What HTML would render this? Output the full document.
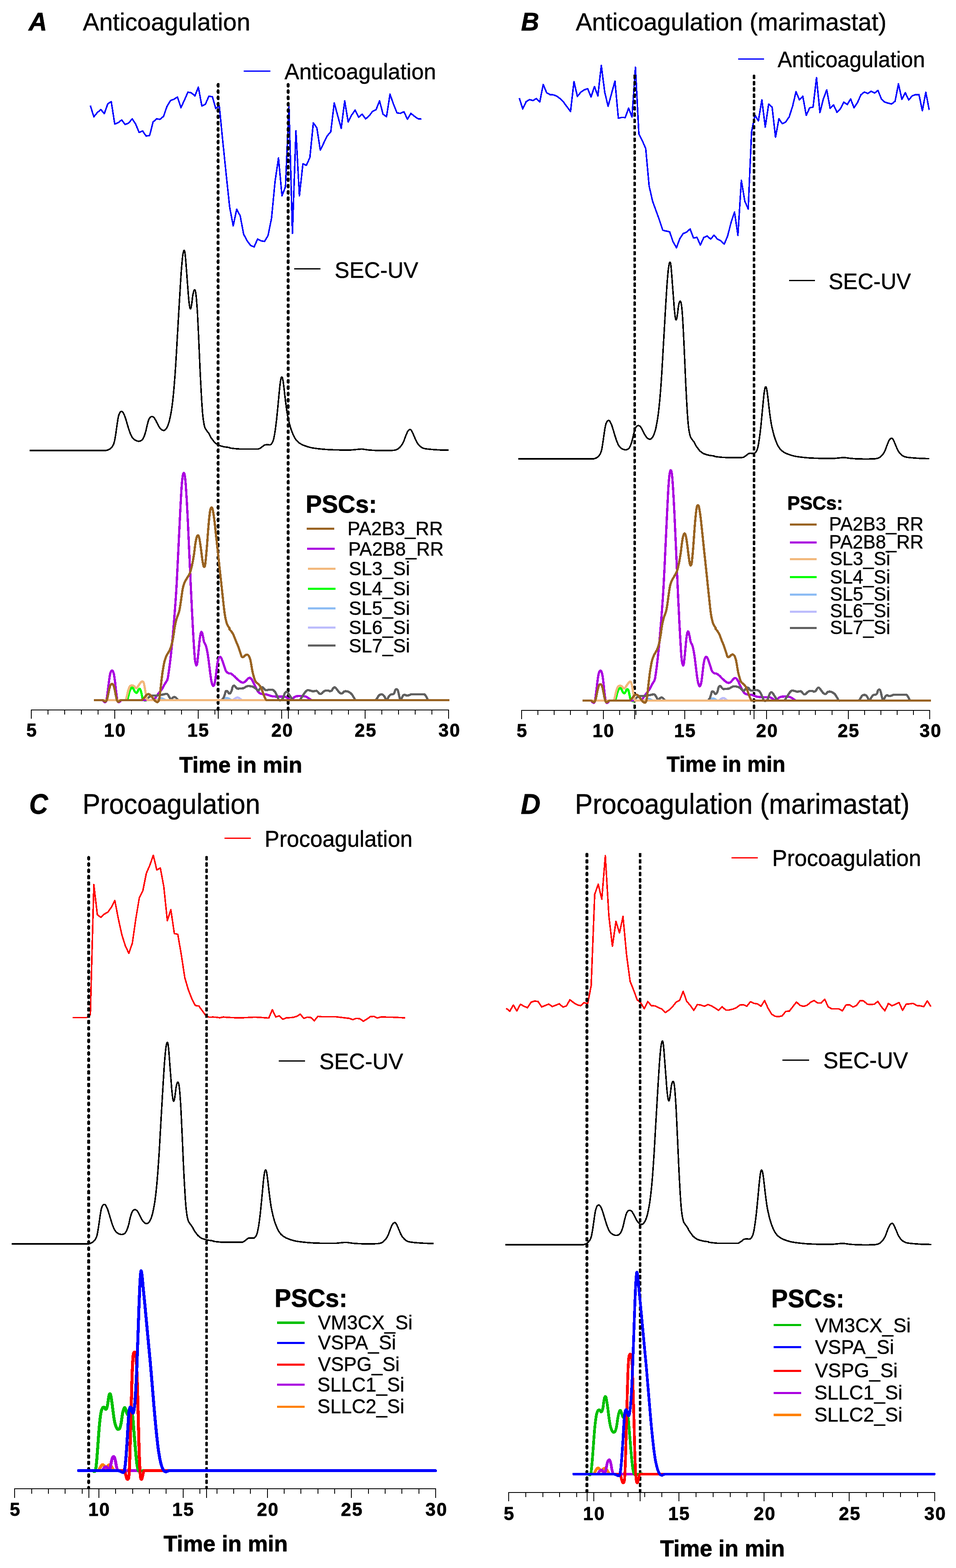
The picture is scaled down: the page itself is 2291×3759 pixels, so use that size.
<!DOCTYPE html>
<html lang="en">
<head>
<meta charset="utf-8">
<title>Anticoagulation and procoagulation chromatograms</title>
<style>
html,body{margin:0;padding:0;background:#fff;}
body{width:2291px;height:3759px;overflow:hidden;}
svg{display:block;}
svg text{font-family:"Liberation Sans",Arial,Helvetica,sans-serif;fill:#000;stroke:#000;stroke-width:0.55px;stroke-linejoin:round;}
svg text[font-weight="bold"]{stroke-width:0.9px;}
</style>
</head>
<body>
<svg width="2291" height="3759" viewBox="0 0 2291 3759" shape-rendering="crispEdges">
<rect x="0" y="0" width="2291" height="3759" fill="#fff"/>
<g id="panelA">
<text x="68.70" y="73.10" font-size="60.18" font-weight="bold" font-style="italic" textLength="44.01" lengthAdjust="spacingAndGlyphs">A</text>
<text x="198.60" y="73.10" font-size="59.87" font-weight="normal" font-style="normal" textLength="401.19" lengthAdjust="spacingAndGlyphs">Anticoagulation</text>
<polyline points="216.5,253 224.9,280 233.2,270 241.6,262.5 249.9,272.5 258.3,249 266.6,243.5 275,297.5 283.3,294 291.7,287.5 300,298.5 308.4,295 316.7,285 325.1,297.5 333.4,317.5 341.8,314 350.1,326 358.5,325 366.8,292.5 375.2,285 383.5,286 391.9,279 400.2,255 408.6,241 416.9,238 425.3,232.5 433.6,258 442,240 450.3,221 458.7,222.5 467,230 475.4,209 483.7,254 492.1,250 500.4,231 508.8,231.5 517.1,260 525.5,254 533.8,337.8 542.2,419.7 550.5,497.6 558.9,541.5 567.2,501.5 575.6,517.5 583.9,561.5 592.3,577.4 600.6,588.4 609,592 617.3,573 625.7,577.4 634,578.8 642.4,564.5 650.7,523.5 659.1,435.6 667.4,378.7 675.8,469.6 684.1,447.6 692.5,253.9 700.8,559.5 709.2,313.8 717.5,469.6 725.9,392.7 734.2,396.3 742.6,377.7 750.9,294.6 759.3,306.6 767.6,359.7 776,342.5 784.3,325.7 792.7,315.7 801,246.6 809.4,277.8 817.7,307.8 826.1,241.8 834.4,292.6 842.8,275.8 851.1,263.8 859.5,281 867.8,273.8 876.2,285 884.5,277.8 892.9,267 901.2,263 909.6,241.8 917.9,273.8 926.3,279.8 934.6,225.8 943,249.8 951.3,270.6 959.7,271.8 968,267.8 976.4,285.8 984.7,271.8 993.1,278.6 1001.4,284.6 1009.8,285.4" fill="none" stroke="#0000ff" stroke-width="3.6" stroke-linejoin="round" stroke-linecap="butt" />
<path d="M70.8,1080C100.7,1080 219.1,1080.1 250,1080.1C252,1080.1 254.2,1079.9 256.1,1079.4C257.8,1079.1 259.6,1078.5 261.2,1077.6C262.9,1076.7 264.7,1075.4 266.2,1074C267.8,1072.5 269.2,1070.8 270.3,1068.9C271.5,1066.9 272.6,1064.3 273.3,1061.8C274.2,1059.1 274.8,1055.7 275.4,1052.7C276,1049.1 276.8,1044.6 277.4,1040.5C278.1,1036.1 278.8,1031 279.4,1026.3C280.1,1021.5 280.8,1016.5 281.5,1012.1C282.1,1008 282.8,1003.1 283.5,999.9C284,997.5 284.8,994.7 285.5,992.8C286,991.4 286.9,989.8 287.5,988.7C288.1,987.9 288.9,987.1 289.6,986.7C290.2,986.4 290.9,986.2 291.6,986.3C292.3,986.4 293.1,986.8 293.6,987.3C294.3,988 295.1,989.1 295.7,990.2C296.5,991.8 297.8,994.6 298.7,996.9C299.7,999.5 300.8,1002.9 301.8,1006C302.8,1009.2 303.8,1012.8 304.8,1016.1C305.8,1019.5 306.8,1023.1 307.8,1026.3C308.8,1029.3 309.9,1032.6 310.9,1035.4C311.8,1038 312.9,1040.7 313.9,1042.9C314.8,1044.9 316,1047 317,1048.6C317.8,1049.9 319,1051.2 320,1052.3C320.9,1053.2 322,1054 323.1,1054.7C324.3,1055.4 325.8,1056.2 327.1,1056.7C328.4,1057.2 330,1057.6 331.2,1057.7C332.2,1057.9 333.2,1057.9 334.2,1057.7C335.2,1057.6 336.3,1057.2 337.3,1056.7C338.3,1056.2 339.5,1055.6 340.3,1054.7C341.3,1053.7 342.6,1052.1 343.4,1050.6C344.4,1048.8 345.6,1046 346.4,1043.5C347.4,1040.7 348.6,1036.6 349.5,1033.4C350.2,1030.4 350.8,1027.1 351.5,1024.3C352.1,1021.5 352.8,1018.7 353.5,1016.1C354.1,1013.8 354.9,1011.1 355.5,1009C356.1,1007.3 356.9,1005.3 357.6,1004C358.1,1002.9 358.9,1001.7 359.6,1000.9C360.2,1000.3 360.9,999.7 361.6,999.3C362.4,998.9 363.2,998.5 364.1,998.5C364.9,998.5 365.9,998.8 366.7,999.3C367.7,999.9 368.9,1000.9 369.7,1001.9C370.8,1003.2 371.8,1005.3 372.8,1007C373.8,1008.9 374.8,1011.1 375.8,1013.1C376.9,1015.1 377.9,1017.3 378.9,1019.2C379.8,1020.9 380.9,1022.7 381.9,1024.3C382.9,1025.7 384,1027.2 385,1028.3C385.9,1029.3 387,1030.2 388,1030.7C388.9,1031.3 390.2,1031.6 391.1,1031.8C391.7,1031.9 392.4,1031.9 393.1,1031.8C393.9,1031.5 395.3,1031.1 396.1,1030.3C397.1,1029.4 398.3,1027.7 399.2,1026.3C400.2,1024.6 401.4,1022.3 402.2,1020.2C403.2,1017.7 404.4,1014.2 405.3,1011.1C406.3,1007.3 407.4,1002.3 408.3,997.9C409.3,992.8 410.5,986 411.4,980.6C412.1,975.6 412.8,970.5 413.4,965.4C414.1,959.8 414.8,953.2 415.4,947.1C416.1,940.4 416.8,932.3 417.4,924.8C418.1,916.7 418.8,907.2 419.5,898.4C420.2,889 420.9,878.2 421.5,868C422.2,857.2 422.9,845 423.5,833.5C424.2,821.7 424.9,808.8 425.6,797C426.2,785.5 426.9,774 427.6,762.5C428.3,751 428.9,739.5 429.6,728C430.3,716.5 431,704.7 431.7,693.5C432.3,682.7 433,670.8 433.7,661C434.3,652.2 435,642.4 435.7,634.6C436.3,627.9 437.1,619.6 437.7,614.4C438.2,610.6 439.2,605.6 439.8,603.2C440.1,602.1 440.9,600.1 441.4,600.1C441.9,600.1 442.6,602.1 442.8,603.2C443.3,605.9 444,612 444.4,616.4C445,622 445.5,629.9 446.1,636.7C446.6,644.1 447.3,652.9 447.9,661C448.5,669.5 449.2,678.6 449.9,687.4C450.6,696.2 451.3,706.3 451.9,713.8C452.5,719.9 453.4,727.8 454,732C454.3,734.4 455,737.7 455.4,739.1C455.6,739.7 456.2,740.9 456.6,740.6C457.1,740.2 457.8,738.3 458,737.1C458.6,734.3 459.5,728.3 460.1,723.9C460.7,719 461.4,711.9 462.1,707.7C462.6,704.6 463.6,700.6 464.1,698.6C464.4,697.5 465.1,696.1 465.5,695.5C465.8,695.2 466.4,694.9 466.8,695.1C467.2,695.5 467.9,696.6 468.2,697.5C468.7,699.3 469.3,702.9 469.6,705.7C470.1,709.7 470.8,716.5 471.2,721.9C471.8,729.7 472.7,742.2 473.3,752.3C473.9,764.2 474.6,779.4 475.3,792.9C476,807.1 476.7,822.7 477.3,837.6C478,852.8 478.7,869.7 479.3,884.2C480,897.8 480.7,912 481.4,924.8C482,937 482.7,950.5 483.4,961.3C484,970.8 484.8,982 485.4,989.8C486,995.9 486.8,1003.1 487.5,1008C488,1011.8 488.8,1016.1 489.5,1019.2C490,1021.6 490.7,1024.3 491.5,1026.3C492.3,1028.1 493.6,1029.8 494.6,1031.4C495.5,1032.8 496.6,1034.1 497.6,1035.4C498.6,1036.8 499.8,1038 500.7,1039.5C501.7,1041.2 502.7,1043.7 503.7,1045.6C504.6,1047.3 505.7,1049.1 506.7,1050.6C507.7,1052 508.8,1053.3 509.8,1054.7C510.8,1056 511.8,1057.6 512.8,1058.8C513.8,1059.8 514.8,1060.9 515.9,1061.8C517.1,1062.8 518.6,1063.9 519.9,1064.8C521.2,1065.7 522.6,1066.6 524,1067.3C525.7,1068 528,1068.7 530.1,1069.3C532.5,1070 535.5,1070.8 538.2,1071.3C541.5,1071.9 548,1072.5 550,1073C550.3,1073 549.7,1073.8 550,1073.8C551.7,1074.2 556.6,1074.9 560,1075.2C564.3,1075.6 570.6,1076.4 575.9,1076.4L617.9,1076.4C619.3,1076.4 620.6,1076 621.9,1075.4C623.2,1074.8 624.6,1073.7 625.9,1072.8C627.2,1071.9 628.5,1070.8 629.9,1069.8C631.2,1068.8 632.5,1067.4 633.9,1066.8C635.1,1066.3 636.5,1066.3 637.9,1066.2C640.2,1066.1 645.7,1066.6 647.8,1066.2C649.1,1066 650,1064.8 650.8,1063.8C651.8,1062.6 653.2,1060.6 653.8,1058.8C654.8,1056.2 656.1,1051.6 656.8,1047.8C657.8,1043 659,1035.9 659.8,1029.9C660.8,1022.9 661.9,1013.9 662.8,1005.9C663.8,996.9 664.9,985.9 665.8,975.9C666.8,965.6 668,952.6 668.8,943.9C669.5,937.3 670.2,929.6 670.8,924C671.4,919.3 672.2,913.1 672.8,910C673.1,908.3 673.8,906 674.2,905C674.4,904.5 675,903.8 675.4,904C675.8,904.2 676.6,905.2 676.8,906C677.4,908 678.3,912.6 678.8,916C679.5,920.3 680.2,926.6 680.8,932C681.5,937.6 682.1,944 682.8,949.9C683.6,956.9 684.8,966.6 685.8,973.9C686.7,980.6 687.8,988.2 688.8,993.9C689.6,998.6 690.8,1003.6 691.8,1007.9C692.7,1011.9 693.8,1016.2 694.8,1019.9C695.7,1023.2 696.8,1026.9 697.8,1029.9C698.7,1032.6 699.7,1035.2 700.8,1037.9C701.9,1040.7 703.3,1044 704.8,1046.8C706.2,1049.6 707.9,1052.5 709.8,1054.8C711.5,1057.1 713.5,1059.1 715.8,1060.8C718.1,1062.7 720.9,1064.4 723.7,1065.8C726.7,1067.3 730.3,1068.7 733.7,1069.8C737.4,1071.1 741.7,1072.3 745.7,1073.2C750,1074.1 755,1074.8 759.7,1075.4C765.4,1076.1 773,1076.9 779.7,1077.4C786.4,1077.9 793.3,1078.2 800,1078.4C806.7,1078.6 813.3,1078.8 820,1078.8L839.9,1078.8C844,1078.8 848.3,1078.1 851.9,1077.8C855.3,1077.5 859.3,1077 861.9,1076.8C863.9,1076.7 865.9,1076.5 867.9,1076.6C869.9,1076.7 871.9,1077.1 873.9,1077.4C876.6,1077.8 880.5,1078.5 883.9,1078.8C888.2,1079.2 894.5,1079.6 899.9,1079.8C905.9,1080 913.2,1080.2 919.8,1080.2C926.5,1080.2 935.1,1080 939.8,1079.8C942.5,1079.7 945.6,1079.3 947.8,1078.8C949.5,1078.4 951.2,1077.7 952.8,1076.8C954.5,1075.8 956.3,1074.3 957.8,1072.8C959.4,1071.2 961.3,1069 962.8,1066.8C964.3,1064.7 965.6,1062.3 966.8,1059.8C967.9,1057.3 968.8,1054.5 969.8,1051.8C970.8,1049.2 971.8,1046.3 972.8,1043.8C973.7,1041.5 974.8,1038.9 975.8,1036.9C976.6,1035.1 977.8,1033 978.7,1031.9C979.4,1031 980.7,1030.3 981.3,1029.9C981.8,1029.6 982.3,1029.4 982.7,1029.5C983.3,1029.5 984.3,1029.7 984.7,1030.3C985.6,1031.2 986.9,1033.2 987.7,1034.9C988.7,1036.8 989.7,1039.5 990.7,1041.8C991.7,1044.2 992.7,1046.5 993.7,1048.8C994.7,1051.2 995.7,1053.7 996.7,1055.8C997.6,1057.7 998.6,1059.6 999.7,1061.4C1000.9,1063.3 1002.2,1065.2 1003.7,1066.8C1005.2,1068.5 1007,1070.2 1008.7,1071.4C1010.2,1072.6 1011.9,1073.5 1013.7,1074.2C1015.5,1074.9 1017.7,1075.5 1019.7,1075.8C1022.4,1076.3 1026.3,1076.7 1029.7,1077C1033,1077.3 1036.3,1077.6 1039.7,1077.8C1044,1078.1 1050.3,1078.6 1055.6,1078.8C1061.6,1079 1072,1079.1 1075.2,1079.2" fill="none" stroke="#000" stroke-width="3.6" stroke-linejoin="round" stroke-linecap="butt"/>
<line x1="522.7" y1="202.3" x2="522.7" y2="1701" stroke="#000" stroke-width="6.5" stroke-linecap="round" stroke-dasharray="4.4 10.7"/>
<line x1="690.6" y1="202.3" x2="690.6" y2="1701" stroke="#000" stroke-width="6.5" stroke-linecap="round" stroke-dasharray="4.4 10.7"/>
<line x1="522.7" y1="1701.9" x2="522.7" y2="1722.7" stroke="#000" stroke-width="2" stroke-linecap="butt" />
<line x1="690.6" y1="1701.9" x2="690.6" y2="1722.7" stroke="#000" stroke-width="2" stroke-linecap="butt" />
<path d="M375.7,1678.3C376.7,1677.8 379.8,1676.3 381.5,1675.6C383.1,1674.9 384.6,1673.7 386.2,1673.7C387.7,1673.7 389.3,1674.9 390.8,1675.6C392.5,1676.3 395.6,1677.8 396.6,1678.3" fill="none" stroke="#8cbcf4" stroke-width="5.4" stroke-linejoin="round" stroke-linecap="butt"/>
<path d="M532,1678.3C533,1677.7 536.1,1675.5 537.9,1674.6C539.5,1673.9 541.3,1673.2 542.9,1673.2C544.6,1673.2 546.4,1673.9 547.9,1674.6C549.8,1675.5 552.9,1677.7 553.9,1678.3" fill="none" stroke="#8cbcf4" stroke-width="5.4" stroke-linejoin="round" stroke-linecap="butt"/>
<path d="M557.9,1678.3C558.9,1677.6 562.1,1675.3 563.9,1674.2C565.5,1673.3 567.2,1672 568.9,1672C570.6,1672 572.4,1673.2 573.9,1674.2C575.6,1675.3 578.1,1677.6 578.9,1678.3" fill="none" stroke="#bcbcfc" stroke-width="5.4" stroke-linejoin="round" stroke-linecap="butt"/>
<path d="M224.7,1678.3L304,1678.3C305.1,1678.3 305.3,1676.6 305.7,1675.6C306.2,1674 306.9,1670.9 307.5,1668.6C308.2,1665.9 309.1,1661.9 309.8,1659.4C310.4,1657.4 311.3,1655.2 312.1,1653.6C312.9,1652.2 314.1,1650.5 314.9,1649.7C315.5,1649 316.5,1648 317.2,1648.3C318,1648.5 318.9,1650.2 319.5,1651.3C320.4,1652.7 321.5,1655.5 322.6,1657.1C323.4,1658.3 324.7,1660 325.6,1660.5C326.2,1661 327.3,1661 327.9,1660.5C328.6,1660 329.5,1658.3 330.2,1657.1C331,1655.7 331.7,1653.4 332.5,1652.4C333,1651.8 334,1650.9 334.8,1651.3C335.6,1651.7 336.6,1653.4 337.1,1654.7C337.9,1656.9 338.7,1660.9 339.4,1664C340.2,1667.3 340.9,1672 341.7,1674.4C342.3,1675.9 343.3,1677.4 344.5,1678.3C345.8,1679.2 348,1679.7 349.2,1679.7C350.1,1679.7 350.6,1678.3 351.5,1678.3L1076.5,1678.3" fill="none" stroke="#00ff00" stroke-width="5.4" stroke-linejoin="round" stroke-linecap="butt"/>
<path d="M224.7,1678.3L245.1,1678.3C246.6,1678.3 247.4,1680.5 248.5,1681.4C249.6,1682.2 251,1683.9 252,1683.7C253,1683.5 254.4,1681.6 254.8,1680.2C255.6,1677.3 256.4,1671 257.1,1666.3C257.9,1660.9 258.6,1654 259.4,1647.8C260.2,1641.6 261,1634.7 261.7,1629.3C262.4,1624.7 263.3,1618.8 264,1615.4C264.5,1613.2 265.6,1610.3 266.3,1608.9C266.8,1608.1 267.9,1607.2 268.7,1607.3C269.4,1607.4 270.5,1608.6 271,1609.6C271.7,1611.4 272.8,1615 273.3,1617.7C274.1,1621.8 274.9,1628.5 275.6,1633.9C276.4,1640.1 277.1,1648.2 277.9,1654.7C278.6,1660.9 279.5,1668.6 280.2,1673.3C280.7,1676.4 281.8,1680.8 282.5,1682.5C282.9,1683.3 284,1683.8 284.9,1683.7C285.7,1683.5 286.9,1682.2 287.9,1681.4C288.9,1680.5 289.8,1678.3 291.3,1678.3L363,1678.3C364.7,1678.3 366.2,1677.5 367.7,1676.7C369.2,1675.9 371,1674.7 372.3,1673.3C373.8,1671.5 375.4,1668.4 376.9,1666.3C378.4,1664.3 380,1662.5 381.5,1660.5C383.1,1658.6 384.7,1656.7 386.2,1654.7C387.7,1652.6 389.4,1650.1 390.8,1647.8C392.1,1645.6 393,1643.1 394.3,1640.9C396,1637.8 399.6,1633.2 401.1,1629.3C402.6,1625.6 402.8,1621.6 403.4,1617.7C404.2,1613.1 405,1606.9 405.7,1601.5C406.5,1595.8 407.3,1589.2 408.1,1583C408.8,1576.5 409.6,1569.2 410.4,1562.2C411.1,1554.9 412,1546.8 412.7,1539.1C413.5,1531 414.3,1522.1 415,1513.6C415.8,1504.8 416.6,1495.1 417.3,1485.9C418.1,1476.2 418.9,1465.8 419.6,1455.8C420.4,1445.4 421.3,1434.2 421.9,1423.4C422.7,1412.2 423.3,1400.3 423.9,1388.7C424.5,1376.8 425.2,1364 425.8,1351.7C426.5,1339 427.1,1325.5 427.7,1312.4C428.4,1299.3 429,1286.2 429.6,1273.1C430.3,1259.9 430.9,1246.4 431.5,1233.7C432.2,1221.4 432.8,1208.3 433.5,1196.7C434.1,1185.9 434.8,1173.2 435.4,1164.3C436,1157.4 436.9,1148.3 437.5,1143.5C437.9,1140.8 438.8,1137 439.3,1135.4C439.5,1134.8 440,1133.6 440.5,1133.8C441,1134 441.9,1135.5 442.1,1136.6C442.7,1139 443.5,1144.3 443.9,1148.1C444.6,1154.7 445.5,1166.6 446.1,1175.9C446.8,1186.7 447.6,1200.6 448.3,1212.9C449,1226 449.7,1240.7 450.4,1254.5C451.1,1269.2 451.8,1285.4 452.5,1300.8C453.2,1316.2 453.9,1331.7 454.6,1347.1C455.3,1362.5 456,1377.9 456.7,1393.3C457.4,1408.8 458.1,1424.2 458.9,1439.6C459.6,1455 460.4,1471.2 461.2,1485.9C461.9,1499.8 462.7,1514.4 463.5,1527.5C464.2,1539.9 465.1,1554.9 465.8,1564.5C466.3,1571.5 466.9,1580.3 467.7,1585.3C468.2,1588.7 469.8,1593.9 470.6,1595.1C471.2,1596 472,1593.3 472.2,1592.3C472.8,1589.5 473.5,1583 474,1578.4C474.7,1572.2 475.6,1563 476.4,1555.3C477.1,1547.6 477.9,1538.3 478.7,1532.1C479.3,1527.5 480.3,1521.2 481,1518.3C481.3,1517 482.2,1514.8 482.8,1514.8C483.5,1514.8 484.3,1517 484.7,1518.3C485.3,1520.4 486.1,1524.4 486.8,1527.5C487.5,1531 488.1,1536 489.1,1539.1C489.9,1541.6 491.6,1543.6 492.6,1546C493.6,1548.7 494.6,1552.1 495.3,1555.3C496.2,1558.7 497,1563 497.6,1566.8C498.4,1571.5 499.2,1577.6 500,1583C500.7,1588.8 501.5,1595.4 502.3,1601.5C503,1607.7 503.8,1614.7 504.6,1620C505.2,1624.7 506.1,1630.3 506.9,1633.9C507.5,1636.7 508.4,1640.3 509.2,1642C509.6,1643 510.7,1644.5 511.5,1644.3C512.3,1644.1 513.4,1642.2 513.8,1640.9C514.6,1638.4 515.5,1633.2 516.1,1629.3C516.9,1624.3 517.7,1617 518.5,1610.8C519.2,1604.6 520,1597.3 520.8,1592.3C521.4,1588.4 522.3,1583.4 523.1,1580.7C523.6,1579.1 524.6,1577.1 525.4,1576.1C525.9,1575.4 526.9,1574.7 527.7,1574.9C528.5,1575.1 529.5,1576.3 530,1577.3C530.9,1578.8 532.1,1581.8 533,1584.2C534.1,1587.1 535.3,1591.1 536.5,1594.6C537.7,1598.1 539.2,1602.8 540,1605C540.3,1605.9 540.5,1606.9 540.9,1607.7C541.6,1608.8 542.8,1610.6 543.9,1611.7C545.1,1612.8 546.5,1613.6 547.9,1614.1C549.4,1614.6 551.4,1614.2 552.9,1614.7C554.4,1615.2 555.6,1616.3 556.9,1617.3C558.3,1618.3 559.6,1619.5 560.9,1620.7C562.4,1622.1 564.2,1624.1 565.9,1625.7C567.5,1627.2 569.2,1628.7 570.9,1630.1C572.5,1631.4 574.4,1633.1 575.9,1634.1C577.1,1634.9 578.6,1635.7 579.9,1636.1C581.2,1636.4 582.7,1636.3 583.9,1636.1C585,1635.9 586,1635.3 586.9,1634.7C587.9,1633.9 588.9,1632.7 589.9,1631.7C590.9,1630.6 591.9,1629.1 592.9,1628.1C593.8,1627.2 594.9,1626.2 595.9,1625.7C596.8,1625.2 597.9,1624.9 598.9,1625.1C599.9,1625.3 601.1,1626.2 601.9,1627.1C602.9,1628.2 604,1630.1 604.9,1631.7C605.9,1633.4 606.9,1635.7 607.8,1637.7C608.8,1639.7 609.8,1641.7 610.8,1643.7C611.8,1645.7 612.8,1647.7 613.8,1649.7C614.8,1651.6 615.8,1654 616.8,1655.6C617.7,1657.1 618.7,1658.5 619.8,1659.6C621,1660.8 622.3,1662 623.8,1662.6C625.5,1663.4 627.8,1663.7 629.8,1664C632.1,1664.4 635.5,1664.2 637.8,1664.6C639.9,1665 641.8,1666 643.8,1666.6C645.8,1667.3 647.8,1668.1 649.8,1668.6C651.8,1669.1 653.8,1669.4 655.8,1669.6C658.4,1669.9 662.4,1670 665.8,1670L679.7,1670C681.1,1670 682.5,1670.2 683.7,1670.6C685.1,1671.1 686.4,1671.9 687.7,1672.6C689.1,1673.4 690.4,1674.4 691.7,1675.2C693.2,1676.2 695.4,1678.1 696.7,1678.3C697.9,1678.5 698.8,1677.3 699.7,1676.6C700.9,1675.7 702.4,1673.7 703.7,1672.6C704.9,1671.6 706.4,1670.6 707.7,1670C709,1669.5 710.3,1669.2 711.7,1669C713.4,1668.8 715.7,1668.7 717.7,1668.6C720,1668.6 723.4,1668.5 725.7,1668.6C727.7,1668.8 729.8,1669.1 731.7,1669.6C733.4,1670.2 735.1,1671.1 736.7,1672C738.3,1673 739.9,1674.2 741.7,1675.2C743.5,1676.3 745.4,1678.3 747.7,1678.3L1076.5,1678.3" fill="none" stroke="#aa00e0" stroke-width="5.4" stroke-linejoin="round" stroke-linecap="butt"/>
<path d="M351.5,1678.3C351.8,1677.7 353,1675.4 353.8,1674.4C354.4,1673.5 355.3,1672.8 356.1,1672.1C357.2,1671.1 359.2,1669.4 360.7,1668.6C362.1,1667.9 363.8,1667.6 365.3,1667.5C367.3,1667.3 370,1667.6 372.3,1667.5C374.6,1667.4 376.9,1667 379.2,1666.8C381.5,1666.5 383.9,1666.2 386.2,1665.9C388.5,1665.5 391,1664.9 393.1,1664.5C395,1664.1 397.3,1663.4 398.9,1663.5C400.2,1663.6 401.4,1664.3 402.3,1665.2C403.4,1666.2 404.2,1668.2 405.1,1669.8C406.1,1671.4 407.1,1674.1 408.1,1675.1C408.9,1675.8 410.2,1675.9 411.1,1675.6C412.1,1675.2 412.9,1673.6 413.9,1672.8C415,1672 416.2,1671.1 417.4,1670.9C418.5,1670.8 419.8,1671.4 420.9,1672.1C422,1672.9 423.2,1674.5 424.3,1675.6C425.3,1676.5 426,1678.3 427.3,1678.3L530,1678.3C531.1,1678.3 532.1,1677.4 533,1676.6C534,1675.7 535.2,1674.1 535.9,1672.6C536.9,1670.6 538.1,1667.1 538.9,1664.6C539.7,1662.3 540.1,1659 540.9,1657.6C541.5,1656.7 542.9,1656.3 543.9,1656.6C544.9,1657 546.1,1658.6 546.9,1659.6C547.7,1660.6 548.1,1662.3 548.9,1662.6C549.8,1663 551.2,1662.4 551.9,1661.6C552.9,1660.6 554.2,1658.5 554.9,1656.6C555.8,1654.5 556.3,1650.6 556.9,1648.7C557.4,1647.2 558.2,1645.5 558.9,1644.7C559.5,1644 560.7,1643.4 561.5,1643.7C562.3,1643.9 563.2,1645.2 563.9,1646.1C564.8,1647.1 565.9,1648.8 566.9,1649.7C567.8,1650.4 568.8,1650.9 569.9,1651C571.1,1651.2 572.6,1650.8 573.9,1650.6C575.6,1650.5 578.2,1650.4 579.9,1650.2C581.2,1650.1 582.6,1650.1 583.9,1649.7C585.2,1649.2 586.5,1648 587.9,1647.3C589.2,1646.5 590.5,1645.7 591.9,1645.3C593.2,1644.8 594.5,1644.7 595.9,1644.7C597.5,1644.7 600,1644.9 601.9,1645.3C603.6,1645.6 605.4,1646 606.9,1646.7C608.3,1647.3 609.6,1648.3 610.8,1649.3C612.2,1650.2 613.5,1651.6 614.8,1652.6C616.1,1653.6 617.7,1655.2 618.8,1655.2C620,1655.2 620.9,1653.6 621.8,1652.6C622.8,1651.5 623.8,1649.6 624.8,1648.7C625.6,1647.9 626.8,1647.3 627.8,1647.3C628.8,1647.3 630,1647.9 630.8,1648.7C631.8,1649.6 632.8,1651.6 633.8,1652.6C634.7,1653.5 635.8,1654.3 636.8,1654.6C637.8,1655 638.8,1654.8 639.8,1654.6C641,1654.5 642.4,1653.8 643.8,1653.6C645.5,1653.5 648.1,1653.6 649.8,1653.6C651.1,1653.7 652.6,1653.6 653.8,1654C654.9,1654.4 655.9,1655.2 656.8,1656C657.8,1657 658.9,1658.3 659.8,1659.6C660.8,1661.2 661.8,1663.6 662.8,1665.6C663.8,1667.8 664.8,1670.5 665.8,1672.6C666.7,1674.6 667.4,1677.4 668.8,1678.3C670.1,1679.2 672.3,1678.9 673.8,1678.3C675.3,1677.7 676.8,1676.2 677.8,1674.6C678.9,1672.7 679.8,1669 680.7,1666.6C681.6,1664.6 682.5,1662 683.3,1660.6C683.9,1659.8 684.8,1658.8 685.7,1658.6C686.6,1658.5 687.9,1659 688.7,1659.6C689.7,1660.4 690.8,1662 691.7,1663.2C692.9,1664.9 694.4,1667.6 695.7,1669.6C697,1671.5 698.6,1673.8 699.7,1675.2C700.6,1676.3 701.3,1678.3 702.7,1678.3L717.7,1678.3C719.7,1678.3 720.5,1675.3 721.7,1673.6C723,1671.8 724.4,1669.6 725.7,1667.6C727,1665.6 728.3,1663.5 729.7,1661.6C730.9,1659.9 732.3,1657.8 733.7,1656.6C734.8,1655.7 736.2,1654.8 737.7,1654.6C739.3,1654.5 741.7,1655.2 743.7,1655.6C745.7,1656.1 747.8,1657.1 749.7,1657.2C751.3,1657.4 753.1,1656.8 754.6,1656.6C756,1656.5 757.5,1655.9 758.6,1656.2C759.8,1656.6 760.7,1657.7 761.6,1658.6C762.6,1659.6 763.6,1661.2 764.6,1662C765.5,1662.8 766.6,1663.5 767.6,1663.6C768.6,1663.7 769.8,1663.2 770.6,1662.6C771.8,1661.8 773.3,1659.7 774.6,1658.6C775.8,1657.7 777.7,1656.7 778.6,1656.2C779.1,1656 779.5,1655.7 780,1655.6C781.3,1655.5 784.6,1655.4 786.4,1655.6C787.9,1655.8 789.2,1657.1 790.7,1657.1C792.1,1657.1 793.8,1656.6 794.9,1655.6C796.2,1654.5 797,1651.6 798.1,1650.3C799,1649.2 800.2,1647.9 801.3,1647.7C802.4,1647.6 803.6,1648.4 804.5,1649.2C805.7,1650.4 807.3,1652.8 808.8,1654.6C810.2,1656.3 811.6,1658.5 813,1659.9C814.2,1661.1 816,1662.3 817.3,1662.7C818.3,1663 819.6,1662.6 820.5,1662C821.7,1661.2 823.3,1658.6 824.7,1657.8C826,1657 827.6,1657.1 829,1657.1C830.4,1657.1 831.9,1657.3 833.3,1657.8C834.7,1658.2 836.2,1659 837.5,1659.9C838.9,1660.8 840.5,1661.8 841.8,1663.1C843,1664.3 844,1665.9 845,1667.3C846,1668.9 847.1,1670.9 848.2,1672.7C849.2,1674.5 850.3,1677.4 851.4,1678.3C852.2,1679 853.5,1678.3 854.6,1678.3L899.3,1678.3C900.1,1678.3 900.9,1677.5 901.4,1676.9C902.3,1676 903.6,1674.1 904.6,1672.7C905.7,1671.1 906.8,1668.6 907.8,1667.3C908.7,1666.4 909.8,1665.6 911,1665.2C912.3,1664.8 914,1664.6 915.3,1664.8C916.4,1665 917.6,1665.5 918.5,1666.3C919.5,1667.2 920.7,1669.1 921.7,1670.5C922.7,1672.1 923.8,1675 924.9,1675.9C925.7,1676.5 927.2,1676.5 928.1,1675.9C929.1,1675 930.2,1672.1 931.3,1670.5C932.2,1669.1 933.4,1667.2 934.5,1666.3C935.3,1665.5 936.5,1665.1 937.6,1664.8C938.9,1664.4 940.7,1664.8 941.9,1664.1C943.2,1663.5 944.4,1662.3 945.1,1661C946,1659.4 946.5,1656 947.2,1654.6C947.7,1653.7 948.5,1652.7 949.4,1652.4C950.2,1652.1 951.5,1652.2 952.1,1652.9C953,1653.7 953.8,1656.1 954.3,1657.8C955,1660.2 955.7,1664.5 956.4,1667.3C957,1669.9 957.7,1673.4 958.5,1674.8C959,1675.6 960.3,1676.4 961.1,1675.9C961.9,1675.3 962.8,1673 963.6,1671.6C964.5,1670.1 965.4,1667.9 966.4,1666.9C967.2,1666.1 968.5,1665.6 969.6,1665.6C970.7,1665.6 971.7,1666.7 972.8,1666.9C974,1667.2 975.6,1667.5 977.1,1667.3C978.5,1667.2 980.1,1666.7 981.3,1666.3C982.4,1665.9 983.4,1665 984.5,1664.8C985.9,1664.5 988.1,1664.4 989.8,1664.4L1016.5,1664.4C1017.9,1664.4 1018.8,1666.2 1019.7,1667.3C1020.7,1668.7 1021.8,1670.9 1022.9,1672.7C1023.9,1674.5 1025.2,1677.4 1026.1,1678.3C1026.5,1678.8 1027.8,1678.3 1028.2,1678.3" fill="none" stroke="#606060" stroke-width="5.4" stroke-linejoin="round" stroke-linecap="butt"/>
<path d="M224.7,1678.3L300.6,1678.3C302.4,1678.3 302.3,1675 302.9,1673.3C303.7,1670.9 304.4,1667.1 305.2,1664C306,1660.9 306.7,1657.4 307.5,1654.7C308.2,1652.4 309.1,1649.5 309.8,1647.8C310.4,1646.5 311.2,1645.1 312.1,1644.3C313.1,1643.6 314.5,1643.3 315.6,1643.2C316.8,1643.1 318,1643.3 319.1,1643.6C320.1,1644 321,1644.7 321.9,1645.5C322.8,1646.4 324,1648.3 324.9,1649C325.5,1649.5 326.4,1649.9 327.2,1649.7C327.9,1649.4 328.8,1648.2 329.5,1647.3C330.5,1646.1 331.8,1643.7 333,1642C334.1,1640.4 335.3,1638.7 336.4,1637.4C337.5,1636.2 339,1634.6 339.9,1633.9C340.4,1633.6 341.2,1633.2 341.7,1633.5C342.4,1633.9 343.6,1635.1 344.1,1636.2C344.8,1638.2 345.8,1642.4 346.4,1645.5C347.1,1649.4 347.9,1655.1 348.7,1659.4C349.4,1663.2 350.2,1667.8 351,1670.9C351.6,1673.4 352.5,1677.1 353.3,1678.3C353.8,1679.1 355.2,1678.3 356.1,1678.3C357.1,1678.3 358.4,1678.3 359.6,1678.3L1076.5,1678.3" fill="none" stroke="#f2b87c" stroke-width="5.4" stroke-linejoin="round" stroke-linecap="butt"/>
<path d="M224.7,1678.3L245.1,1678.3C246.4,1678.3 247.4,1679.6 248.5,1680.2C249.7,1680.8 251,1682 252,1682C253,1682 254.2,1681.1 254.8,1680.2C255.6,1678.9 256.5,1676.4 257.1,1674.4C257.9,1671.7 258.7,1667.5 259.4,1664C260.2,1660.3 261,1655.7 261.7,1652.4C262.4,1649.7 263.3,1646.3 264,1644.3C264.6,1642.9 265.6,1641.2 266.3,1640.4C266.9,1639.8 267.9,1639.3 268.7,1639.5C269.4,1639.6 270.4,1640.5 271,1641.3C271.7,1642.5 272.7,1644.8 273.3,1646.7C274.1,1649.3 274.9,1653.6 275.6,1657.1C276.4,1660.7 277.1,1665.1 277.9,1668.6C278.6,1671.9 279.5,1676.1 280.2,1678.3C280.7,1679.7 281.8,1681.4 282.5,1682C283.1,1682.5 284.1,1682.4 284.9,1682C285.7,1681.7 286.8,1680.4 287.9,1679.7C288.9,1679.1 290.1,1678.3 291.3,1678.3L337.6,1678.3C338.8,1678.3 340,1678 341.1,1677.4C342.2,1676.8 343.5,1675.5 344.5,1674.4C345.7,1673.1 346.8,1671.2 348,1669.8C349.1,1668.4 350.5,1666.7 351.5,1665.9C352.1,1665.2 353,1664.8 353.8,1664.5C354.5,1664.2 355.3,1663.9 356.1,1664C356.9,1664.1 358.1,1664.6 358.9,1665.2C359.8,1665.9 360.9,1667.1 361.9,1668.2C363,1669.3 364.2,1670.7 365.3,1672.1C366.5,1673.5 367.7,1675.3 368.8,1676.7C369.9,1678.1 371.1,1679.6 372.3,1680.7C373.3,1681.6 374.8,1682.6 375.7,1683C376.5,1683.3 377.4,1683.4 378.1,1683C378.8,1682.5 379.9,1681.3 380.4,1680.2C381,1678.6 381.6,1675.6 382,1673.3C382.6,1669.8 383.3,1664 383.8,1659.4C384.5,1654.4 385.1,1648.6 385.7,1643.2C386.3,1637.8 386.9,1632.4 387.5,1627C388.2,1621.6 388.9,1615.8 389.6,1610.8C390.3,1606.2 391.2,1601.2 391.9,1596.9C392.6,1593 393.3,1589 394.3,1585.3C395.2,1581.8 396.6,1577.8 397.7,1574.9C398.7,1572.5 400,1570.1 401.2,1568C402.3,1566 403.6,1564.2 404.7,1562.2C405.8,1560.1 407.2,1557.7 408.1,1555.3C409.2,1552.6 410.3,1549.1 411.1,1546C412.1,1542.6 413.1,1538.3 413.9,1534.5C414.8,1530.2 415.5,1525.2 416.2,1520.6C417,1515.6 417.7,1509.4 418.5,1504.4C419.3,1499.7 420.4,1494.6 421.3,1490.5C422.2,1487 423.3,1483.2 424.3,1480.1C425.2,1477.4 426.4,1474.7 427.3,1472C428.3,1469.1 429.4,1465.9 430.1,1462.7C431,1458.9 431.7,1453.5 432.4,1448.9C433.2,1443.9 434,1438.1 434.7,1432.7C435.5,1427.3 436.3,1421.1 437,1416.5C437.7,1412.6 438.6,1408 439.4,1404.9C439.9,1402.5 440.7,1400.2 441.7,1398C442.6,1395.7 444,1393.2 445.1,1391C446.2,1389.1 447.5,1387.2 448.6,1385.2C449.8,1383.3 451,1381.4 452.1,1379.5C453.2,1377.3 454.6,1374.9 455.5,1372.5C456.6,1369.8 457.5,1366.4 458.3,1363.3C459.2,1360 459.9,1356.3 460.6,1352.9C461.4,1349.2 462.3,1345.2 462.9,1341.3C463.7,1336.9 464.6,1331.3 465.3,1326.3C466,1320.7 466.8,1313.1 467.6,1307.8C468.2,1303.1 469.1,1297.5 469.9,1293.9C470.5,1291.1 471.4,1287.5 472.2,1285.8C472.6,1284.8 473.7,1283.3 474.5,1283.5C475.3,1283.7 476.4,1285.6 476.8,1286.9C477.6,1289.4 478.5,1294.6 479.1,1298.5C479.9,1303.1 480.7,1309.3 481.5,1314.7C482.2,1320.5 483,1327.4 483.8,1333.2C484.5,1338.6 485.4,1345.3 486.1,1349.4C486.5,1352.1 487.4,1355.9 487.9,1357.5C488.2,1358.2 488.8,1359.3 489.3,1359.1C489.9,1358.9 490.9,1357.4 491.2,1356.3C491.8,1353.6 492.5,1347.1 493,1342.5C493.7,1335.9 494.6,1325.5 495.3,1317C496.1,1307.8 496.9,1297 497.6,1286.9C498.4,1276.9 499.2,1265.7 500,1256.9C500.6,1249.1 501.5,1239.9 502.3,1233.7C502.8,1229.1 503.8,1222.7 504.6,1219.8C504.9,1218.5 506.1,1216.4 506.9,1216.4C507.7,1216.4 508.8,1218.5 509.2,1219.8C510,1222.4 510.9,1227.5 511.5,1231.4C512.3,1236 513.2,1242.2 513.8,1247.6C514.6,1253.8 515.4,1261.5 516.1,1268.4C517,1276.5 518.1,1286.9 519.2,1296.2C520.2,1305.4 521.2,1315.1 522.2,1323.9C523.1,1332.4 524,1340.9 524.9,1349.4C525.9,1357.9 526.8,1366.4 527.7,1374.8C528.7,1383.7 529.7,1393.3 530.7,1402.6C531.7,1411.9 532.8,1421.5 533.7,1430.4C534.6,1438.8 535.6,1448.1 536.5,1455.8C537.3,1462.8 538.3,1470.8 539.3,1476.6C540.1,1481.3 541.2,1486.6 542.3,1490.5C543.2,1493.7 544.4,1497.1 545.8,1499.8C547,1502.2 549.7,1505.2 550.4,1506.7C550.7,1507.4 549.6,1508.2 549.9,1508.8C550.4,1509.7 552,1510.8 552.9,1511.8C553.9,1513 555,1514.5 555.9,1515.8C556.9,1517.3 558,1519.1 558.9,1520.8C559.9,1522.8 561,1525.5 561.9,1527.8C562.9,1530.3 563.9,1533.3 564.9,1535.8C565.9,1538.2 566.9,1540.5 567.9,1542.8C568.9,1545.1 570,1547.4 570.9,1549.8C571.9,1552.5 572.9,1555.8 573.9,1558.8C574.9,1561.8 576.1,1565.3 576.9,1567.8C577.6,1569.8 578.2,1572.4 578.9,1573.8C579.3,1574.6 580.1,1575.6 580.9,1575.8C581.7,1575.9 583,1575.3 583.9,1574.8C584.9,1574.1 585.9,1572.6 586.9,1571.8C587.8,1571 589,1570.2 589.9,1569.8C590.6,1569.4 591.5,1569.2 592.3,1569.4C593.1,1569.5 594.2,1570.1 594.9,1570.8C595.7,1571.7 596.8,1573.3 597.5,1574.8C598.3,1576.6 599.2,1579.4 599.9,1581.7C600.6,1584.6 601.3,1588.4 601.9,1591.7C602.5,1595.4 603.2,1600.1 603.9,1603.7C604.5,1607.1 605.2,1610.9 605.9,1613.7C606.4,1616.1 607.2,1618.4 607.8,1620.7C608.5,1623 609.2,1625.7 609.8,1627.7C610.4,1629.4 611,1631.2 611.8,1632.7C612.7,1634.1 613.8,1635.7 614.8,1636.7C615.7,1637.5 616.9,1637.9 617.8,1638.7C618.8,1639.5 619.9,1640.6 620.8,1641.7C621.8,1642.8 623,1644.2 623.8,1645.7C624.8,1647.3 625.9,1649.6 626.8,1651.6C627.8,1654 628.8,1657 629.8,1659.6C630.8,1662.3 631.8,1665.1 632.8,1667.6C633.8,1670 634.9,1672.8 635.8,1674.6C636.5,1675.9 637.4,1677.7 638.2,1678.3C638.9,1678.8 639.9,1678.3 640.8,1678.3C642.1,1678.3 644.1,1678.3 645.8,1678.3C647.6,1678.3 649.8,1678.3 651.8,1678.3L1076.5,1678.3" fill="none" stroke="#996322" stroke-width="5.4" stroke-linejoin="round" stroke-linecap="butt"/>
<line x1="73.8" y1="1701.9" x2="1076.4" y2="1701.9" stroke="#000" stroke-width="2.0" stroke-linecap="butt" />
<line x1="74.8" y1="1701.9" x2="74.8" y2="1722.7" stroke="#000" stroke-width="2.0" stroke-linecap="butt" />
<line x1="114.8" y1="1701.9" x2="114.8" y2="1713.1" stroke="#000" stroke-width="2.0" stroke-linecap="butt" />
<line x1="154.8" y1="1701.9" x2="154.8" y2="1713.1" stroke="#000" stroke-width="2.0" stroke-linecap="butt" />
<line x1="194.9" y1="1701.9" x2="194.9" y2="1713.1" stroke="#000" stroke-width="2.0" stroke-linecap="butt" />
<line x1="234.9" y1="1701.9" x2="234.9" y2="1713.1" stroke="#000" stroke-width="2.0" stroke-linecap="butt" />
<line x1="274.9" y1="1701.9" x2="274.9" y2="1722.7" stroke="#000" stroke-width="2.0" stroke-linecap="butt" />
<line x1="314.9" y1="1701.9" x2="314.9" y2="1713.1" stroke="#000" stroke-width="2.0" stroke-linecap="butt" />
<line x1="355" y1="1701.9" x2="355" y2="1713.1" stroke="#000" stroke-width="2.0" stroke-linecap="butt" />
<line x1="395" y1="1701.9" x2="395" y2="1713.1" stroke="#000" stroke-width="2.0" stroke-linecap="butt" />
<line x1="435" y1="1701.9" x2="435" y2="1713.1" stroke="#000" stroke-width="2.0" stroke-linecap="butt" />
<line x1="475" y1="1701.9" x2="475" y2="1722.7" stroke="#000" stroke-width="2.0" stroke-linecap="butt" />
<line x1="515.1" y1="1701.9" x2="515.1" y2="1713.1" stroke="#000" stroke-width="2.0" stroke-linecap="butt" />
<line x1="555.1" y1="1701.9" x2="555.1" y2="1713.1" stroke="#000" stroke-width="2.0" stroke-linecap="butt" />
<line x1="595.1" y1="1701.9" x2="595.1" y2="1713.1" stroke="#000" stroke-width="2.0" stroke-linecap="butt" />
<line x1="635.1" y1="1701.9" x2="635.1" y2="1713.1" stroke="#000" stroke-width="2.0" stroke-linecap="butt" />
<line x1="675.2" y1="1701.9" x2="675.2" y2="1722.7" stroke="#000" stroke-width="2.0" stroke-linecap="butt" />
<line x1="715.2" y1="1701.9" x2="715.2" y2="1713.1" stroke="#000" stroke-width="2.0" stroke-linecap="butt" />
<line x1="755.2" y1="1701.9" x2="755.2" y2="1713.1" stroke="#000" stroke-width="2.0" stroke-linecap="butt" />
<line x1="795.2" y1="1701.9" x2="795.2" y2="1713.1" stroke="#000" stroke-width="2.0" stroke-linecap="butt" />
<line x1="835.3" y1="1701.9" x2="835.3" y2="1713.1" stroke="#000" stroke-width="2.0" stroke-linecap="butt" />
<line x1="875.3" y1="1701.9" x2="875.3" y2="1722.7" stroke="#000" stroke-width="2.0" stroke-linecap="butt" />
<line x1="915.3" y1="1701.9" x2="915.3" y2="1713.1" stroke="#000" stroke-width="2.0" stroke-linecap="butt" />
<line x1="955.3" y1="1701.9" x2="955.3" y2="1713.1" stroke="#000" stroke-width="2.0" stroke-linecap="butt" />
<line x1="995.4" y1="1701.9" x2="995.4" y2="1713.1" stroke="#000" stroke-width="2.0" stroke-linecap="butt" />
<line x1="1035.4" y1="1701.9" x2="1035.4" y2="1713.1" stroke="#000" stroke-width="2.0" stroke-linecap="butt" />
<line x1="1075.4" y1="1701.9" x2="1075.4" y2="1722.7" stroke="#000" stroke-width="2.0" stroke-linecap="butt" />
<text x="63.21" y="1765.90" font-size="43.86" font-weight="bold" font-style="normal" letter-spacing="2.20">5</text>
<text x="249.35" y="1765.90" font-size="43.86" font-weight="bold" font-style="normal" letter-spacing="2.20">10</text>
<text x="449.12" y="1765.90" font-size="43.86" font-weight="bold" font-style="normal" letter-spacing="2.20">15</text>
<text x="650.27" y="1765.90" font-size="43.86" font-weight="bold" font-style="normal" letter-spacing="2.20">20</text>
<text x="850.05" y="1765.90" font-size="43.86" font-weight="bold" font-style="normal" letter-spacing="2.20">25</text>
<text x="1050.85" y="1765.90" font-size="43.86" font-weight="bold" font-style="normal" letter-spacing="2.20">30</text>
<text x="429.50" y="1851.80" font-size="54.37" font-weight="bold" font-style="normal" textLength="294.87" lengthAdjust="spacingAndGlyphs">Time in min</text>
<line x1="584" y1="170.5" x2="648" y2="170.5" stroke="#0000ff" stroke-width="3.0" stroke-linecap="butt" />
<text x="681.80" y="190.00" font-size="54.16" font-weight="normal" font-style="normal" textLength="363.18" lengthAdjust="spacingAndGlyphs">Anticoagulation</text>
<line x1="705" y1="644.6" x2="767.8" y2="644.6" stroke="#000" stroke-width="3.0" stroke-linecap="butt" />
<text x="802.04" y="665.90" font-size="54.26" font-weight="normal" font-style="normal" textLength="200.40" lengthAdjust="spacingAndGlyphs">SEC-UV</text>
<text x="732.58" y="1228.90" font-size="59.26" font-weight="bold" font-style="normal" textLength="170.63" lengthAdjust="spacingAndGlyphs">PSCs:</text>
<line x1="734.5" y1="1267.3" x2="800.5" y2="1267.3" stroke="#996322" stroke-width="5.0" stroke-linecap="butt" />
<text x="832.65" y="1282.90" font-size="46.31" font-weight="normal" font-style="normal" textLength="228.80" lengthAdjust="spacingAndGlyphs">PA2B3_RR</text>
<line x1="736.1" y1="1315.3" x2="802.1" y2="1315.3" stroke="#aa00e0" stroke-width="5.0" stroke-linecap="butt" />
<text x="834.45" y="1331.80" font-size="46.31" font-weight="normal" font-style="normal" textLength="228.80" lengthAdjust="spacingAndGlyphs">PA2B8_RR</text>
<line x1="738" y1="1363.3" x2="804" y2="1363.3" stroke="#f2b87c" stroke-width="5.0" stroke-linecap="butt" />
<text x="835.88" y="1379.20" font-size="46.31" font-weight="normal" font-style="normal" textLength="146.40" lengthAdjust="spacingAndGlyphs">SL3_Si</text>
<line x1="738" y1="1411.6" x2="804" y2="1411.6" stroke="#00ff00" stroke-width="5.0" stroke-linecap="butt" />
<text x="835.88" y="1426.80" font-size="46.31" font-weight="normal" font-style="normal" textLength="146.40" lengthAdjust="spacingAndGlyphs">SL4_Si</text>
<line x1="738" y1="1458.5" x2="804" y2="1458.5" stroke="#8cbcf4" stroke-width="5.0" stroke-linecap="butt" />
<text x="835.88" y="1474.40" font-size="46.31" font-weight="normal" font-style="normal" textLength="146.40" lengthAdjust="spacingAndGlyphs">SL5_Si</text>
<line x1="738" y1="1504.6" x2="804" y2="1504.6" stroke="#bcbcfc" stroke-width="5.0" stroke-linecap="butt" />
<text x="835.88" y="1520.20" font-size="46.31" font-weight="normal" font-style="normal" textLength="146.40" lengthAdjust="spacingAndGlyphs">SL6_Si</text>
<line x1="738" y1="1547.1" x2="804" y2="1547.1" stroke="#606060" stroke-width="5.0" stroke-linecap="butt" />
<text x="835.88" y="1564.10" font-size="46.31" font-weight="normal" font-style="normal" textLength="146.40" lengthAdjust="spacingAndGlyphs">SL7_Si</text>
</g>
<g id="panelB">
<text x="1248.87" y="73.10" font-size="60.18" font-weight="bold" font-style="italic" textLength="43.21" lengthAdjust="spacingAndGlyphs">B</text>
<text x="1379.80" y="73.10" font-size="59.67" font-weight="normal" font-style="normal" textLength="744.73" lengthAdjust="spacingAndGlyphs">Anticoagulation (marimastat)</text>
<polyline points="1244.5,234.9 1252.7,261.1 1260.9,243.6 1269.1,238.9 1277.2,241.1 1285.4,236.1 1293.6,244.1 1301.8,202.4 1310,222.4 1318.2,226.9 1326.4,227.4 1334.5,230.6 1342.7,236.9 1350.9,245.3 1359.1,256.6 1367.3,267.3 1375.5,195.4 1383.7,231.1 1391.8,221.1 1400,215.6 1408.2,212.4 1416.4,232.4 1424.6,207.4 1432.8,229.9 1441,156.7 1449.2,221.1 1457.3,254.8 1465.5,224.4 1473.7,194.4 1481.9,283.5 1490.1,281.5 1498.3,281.8 1506.5,259.3 1514.6,280.6 1522.8,161.2 1531,321 1539.2,337.2 1547.4,356 1555.6,445.8 1563.8,482 1571.9,504.5 1580.1,527 1588.3,551.9 1596.5,553.9 1604.7,555.7 1612.9,579.4 1621.1,593.9 1629.2,571.9 1637.4,559.9 1645.6,556.4 1653.8,548.9 1662,570.7 1670.2,568.9 1678.4,587.4 1686.5,569.4 1694.7,565.7 1702.9,573.2 1711.1,563.9 1719.3,573.2 1727.5,577.4 1735.7,585.1 1743.8,565.7 1752,533.2 1760.2,508.2 1768.4,564.4 1776.6,432.1 1784.8,482 1793,500.8 1801.1,316 1809.3,276.1 1817.5,289.8 1825.7,239.4 1833.9,304.8 1842.1,249.3 1850.3,256.8 1858.5,329 1866.6,284.8 1874.8,296.5 1883,292.3 1891.2,280.3 1899.4,254.8 1907.6,219.9 1915.8,239.4 1923.9,230.6 1932.1,276.5 1940.3,258.5 1948.5,256.8 1956.7,186.1 1964.9,269.8 1973.1,237.3 1981.2,215.3 1989.4,259.8 1997.6,251.5 2005.8,269.3 2014,260.5 2022.2,244.8 2030.4,250.6 2038.5,237.3 2046.7,258.5 2054.9,246.1 2063.1,227.3 2071.3,220.6 2079.5,224.1 2087.7,218.6 2095.8,223.1 2104,216.8 2112.2,237.3 2120.4,244.8 2128.6,247.3 2136.8,249.3 2145,242.8 2153.1,201.1 2161.3,238.1 2169.5,222.3 2177.7,239.8 2185.9,229.8 2194.1,226.8 2202.3,226.8 2210.4,265.5 2218.6,221.1 2226.8,263.5" fill="none" stroke="#0000ff" stroke-width="3.6" stroke-linejoin="round" stroke-linecap="butt" />
<path d="M1242.1,1100.2C1271.4,1100.2 1387.6,1100.3 1417.9,1100.3C1419.9,1100.2 1422,1100.1 1423.8,1099.7C1425.6,1099.3 1427.3,1098.7 1428.8,1097.9C1430.5,1097 1432.3,1095.7 1433.8,1094.3C1435.3,1092.8 1436.7,1091.1 1437.8,1089.3C1438.9,1087.3 1440,1084.7 1440.8,1082.3C1441.6,1079.7 1442.2,1076.4 1442.8,1073.3C1443.4,1069.9 1444.1,1065.4 1444.7,1061.4C1445.4,1057.1 1446.1,1052.1 1446.7,1047.4C1447.4,1042.8 1448.1,1037.8 1448.7,1033.5C1449.3,1029.5 1450.1,1024.7 1450.7,1021.5C1451.2,1019.1 1452,1016.4 1452.7,1014.5C1453.2,1013.1 1454,1011.5 1454.7,1010.5C1455.2,1009.8 1456,1008.9 1456.7,1008.5C1457.3,1008.2 1458,1008 1458.7,1008.1C1459.3,1008.2 1460.1,1008.6 1460.7,1009.1C1461.3,1009.8 1462.1,1010.9 1462.7,1011.9C1463.5,1013.5 1464.8,1016.3 1465.7,1018.5C1466.6,1021.1 1467.7,1024.5 1468.6,1027.5C1469.6,1030.6 1470.6,1034.1 1471.6,1037.5C1472.6,1040.8 1473.6,1044.3 1474.6,1047.4C1475.6,1050.4 1476.6,1053.7 1477.6,1056.4C1478.5,1058.9 1479.6,1061.6 1480.6,1063.8C1481.5,1065.7 1482.6,1067.8 1483.6,1069.4C1484.4,1070.7 1485.6,1071.9 1486.6,1072.9C1487.5,1073.8 1488.5,1074.7 1489.5,1075.3C1490.7,1076.1 1492.2,1076.8 1493.5,1077.3C1494.8,1077.8 1496.3,1078.2 1497.5,1078.3C1498.5,1078.5 1499.5,1078.5 1500.5,1078.3C1501.5,1078.2 1502.5,1077.8 1503.5,1077.3C1504.5,1076.8 1505.6,1076.2 1506.5,1075.3C1507.5,1074.3 1508.7,1072.8 1509.4,1071.3C1510.4,1069.5 1511.6,1066.8 1512.4,1064.4C1513.4,1061.5 1514.6,1057.6 1515.4,1054.4C1516.2,1051.4 1516.7,1048.3 1517.4,1045.4C1518,1042.8 1518.7,1039.9 1519.4,1037.5C1520,1035.1 1520.7,1032.5 1521.4,1030.5C1522,1028.8 1522.7,1026.8 1523.4,1025.5C1523.9,1024.4 1524.7,1023.3 1525.4,1022.5C1525.9,1021.9 1526.6,1021.3 1527.4,1020.9C1528.1,1020.5 1528.9,1020.1 1529.8,1020.1C1530.6,1020.1 1531.6,1020.4 1532.3,1020.9C1533.3,1021.5 1534.5,1022.5 1535.3,1023.5C1536.3,1024.8 1537.4,1026.8 1538.3,1028.5C1539.3,1030.3 1540.3,1032.5 1541.3,1034.5C1542.3,1036.5 1543.3,1038.6 1544.3,1040.4C1545.2,1042.1 1546.3,1043.9 1547.3,1045.4C1548.2,1046.8 1549.3,1048.4 1550.3,1049.4C1551.1,1050.3 1552.2,1051.2 1553.2,1051.8C1554.2,1052.3 1555.4,1052.6 1556.2,1052.8C1556.9,1052.9 1557.6,1053 1558.2,1052.8C1559,1052.6 1560.4,1052.1 1561.2,1051.4C1562.2,1050.5 1563.3,1048.8 1564.2,1047.4C1565.2,1045.8 1566.3,1043.5 1567.2,1041.4C1568.2,1038.9 1569.3,1035.5 1570.2,1032.5C1571.2,1028.8 1572.3,1023.9 1573.1,1019.5C1574.1,1014.5 1575.3,1007.9 1576.1,1002.6C1576.9,997.6 1577.5,992.6 1578.1,987.6C1578.8,982.1 1579.5,975.7 1580.1,969.7C1580.8,963 1581.5,955.1 1582.1,947.7C1582.8,939.8 1583.5,930.5 1584.1,921.8C1584.8,912.5 1585.5,901.9 1586.1,891.9C1586.7,881.3 1587.4,869.3 1588.1,858C1588.7,846.4 1589.4,833.8 1590.1,822.1C1590.7,810.8 1591.4,799.5 1592.1,788.2C1592.7,776.9 1593.4,765.6 1594,754.3C1594.7,743 1595.4,731.4 1596,720.5C1596.7,709.8 1597.4,698.2 1598,688.6C1598.6,679.9 1599.4,670.3 1600,662.6C1600.6,656 1601.3,647.8 1602,642.7C1602.5,639 1603.4,634.1 1604,631.7C1604.3,630.6 1605.1,628.7 1605.6,628.7C1606.1,628.7 1606.8,630.7 1607,631.7C1607.5,634.4 1608.2,640.4 1608.6,644.7C1609.1,650.2 1609.7,658 1610.2,664.6C1610.7,671.9 1611.4,680.6 1612,688.6C1612.6,696.9 1613.3,705.8 1614,714.5C1614.6,723.1 1615.3,733.1 1615.9,740.4C1616.5,746.4 1617.4,754.2 1617.9,758.3C1618.3,760.7 1618.9,763.9 1619.3,765.3C1619.5,765.9 1620.1,767 1620.5,766.7C1621,766.4 1621.7,764.5 1621.9,763.3C1622.5,760.6 1623.3,754.7 1623.9,750.4C1624.6,745.5 1625.2,738.6 1625.9,734.4C1626.4,731.4 1627.3,727.4 1627.9,725.4C1628.2,724.4 1628.9,723 1629.3,722.4C1629.5,722.1 1630.1,721.8 1630.5,722C1630.9,722.4 1631.6,723.6 1631.9,724.4C1632.3,726.2 1632.9,729.7 1633.3,732.4C1633.8,736.4 1634.4,743 1634.9,748.4C1635.5,756 1636.3,768.3 1636.8,778.3C1637.5,789.9 1638.2,804.9 1638.8,818.1C1639.5,832.1 1640.2,847.4 1640.8,862C1641.5,877 1642.2,893.6 1642.8,907.9C1643.4,921.2 1644.1,935.1 1644.8,947.7C1645.4,959.7 1646.1,973 1646.8,983.6C1647.4,992.9 1648.1,1003.9 1648.8,1011.5C1649.3,1017.5 1650.1,1024.7 1650.8,1029.5C1651.3,1033.2 1652.1,1037.5 1652.8,1040.4C1653.3,1042.8 1653.9,1045.4 1654.8,1047.4C1655.5,1049.2 1656.8,1050.9 1657.7,1052.4C1658.7,1053.8 1659.7,1055.1 1660.7,1056.4C1661.7,1057.7 1662.9,1059 1663.7,1060.4C1664.7,1062 1665.7,1064.5 1666.7,1066.4C1667.6,1068.1 1668.7,1069.9 1669.7,1071.3C1670.6,1072.7 1671.7,1074 1672.7,1075.3C1673.7,1076.7 1674.7,1078.2 1675.7,1079.3C1676.6,1080.4 1677.6,1081.4 1678.7,1082.3C1679.8,1083.3 1681.3,1084.4 1682.6,1085.3C1683.9,1086.2 1685.2,1087.1 1686.6,1087.7C1688.3,1088.4 1690.6,1089.1 1692.6,1089.7C1694.9,1090.4 1697.9,1091.2 1700.5,1091.7C1703.8,1092.3 1710.2,1092.9 1712.1,1093.3C1712.4,1093.3 1711.8,1094.1 1712.1,1094.1C1713.7,1094.5 1718.6,1095.2 1721.9,1095.5C1726.1,1095.9 1732.3,1096.7 1737.6,1096.7L1778.7,1096.7C1780,1096.7 1781.4,1096.2 1782.6,1095.7C1783.9,1095.1 1785.3,1094 1786.5,1093.1C1787.8,1092.2 1789.1,1091.2 1790.5,1090.2C1791.8,1089.2 1793.1,1087.8 1794.4,1087.3C1795.6,1086.7 1797,1086.7 1798.3,1086.7C1800.6,1086.6 1806,1087.1 1808.1,1086.7C1809.3,1086.4 1810.2,1085.3 1811,1084.3C1812,1083.1 1813.3,1081.2 1814,1079.4C1814.9,1076.8 1816.1,1072.3 1816.9,1068.6C1817.9,1063.9 1819,1056.8 1819.8,1050.9C1820.8,1044.1 1821.9,1035.2 1822.8,1027.4C1823.8,1018.5 1824.8,1007.8 1825.7,997.9C1826.7,987.8 1827.8,975 1828.7,966.5C1829.3,960 1830,952.5 1830.6,946.9C1831.2,942.3 1832,936.3 1832.6,933.2C1832.9,931.5 1833.5,929.2 1833.9,928.2C1834.1,927.8 1834.7,927.1 1835.1,927.3C1835.5,927.4 1836.3,928.5 1836.5,929.2C1837,931.2 1837.9,935.7 1838.4,939C1839.1,943.3 1839.8,949.5 1840.4,954.7C1841.1,960.3 1841.7,966.5 1842.4,972.4C1843.2,979.3 1844.3,988.8 1845.3,996C1846.2,1002.5 1847.3,1010 1848.2,1015.6C1849.1,1020.2 1850.2,1025.1 1851.2,1029.3C1852.1,1033.3 1853.1,1037.5 1854.1,1041.1C1855,1044.4 1856.1,1048 1857.1,1050.9C1857.9,1053.6 1858.9,1056.2 1860,1058.8C1861.1,1061.6 1862.4,1064.8 1863.9,1067.6C1865.4,1070.4 1867,1073.2 1868.8,1075.5C1870.5,1077.7 1872.5,1079.6 1874.7,1081.4C1877,1083.2 1879.8,1084.9 1882.5,1086.3C1885.5,1087.7 1889,1089.1 1892.3,1090.2C1895.9,1091.4 1900.1,1092.7 1904.1,1093.5C1908.3,1094.5 1913.2,1095.1 1917.8,1095.7C1923.3,1096.4 1930.8,1097.2 1937.4,1097.7C1944,1098.1 1950.7,1098.4 1957.3,1098.6C1963.8,1098.9 1970.4,1099 1976.9,1099L1996.5,1099C2000.4,1099 2004.7,1098.4 2008.2,1098.1C2011.5,1097.8 2015.4,1097.3 2018,1097.1C2020,1096.9 2022,1096.8 2023.9,1096.9C2025.9,1097 2027.8,1097.4 2029.8,1097.7C2032.4,1098 2036.3,1098.7 2039.6,1099C2043.8,1099.4 2050,1099.8 2055.3,1100C2061.1,1100.2 2068.3,1100.4 2074.8,1100.4C2081.4,1100.4 2089.9,1100.2 2094.4,1100C2097.1,1099.9 2100.1,1099.5 2102.3,1099C2104,1098.6 2105.7,1098 2107.2,1097.1C2108.8,1096.1 2110.6,1094.6 2112.1,1093.1C2113.7,1091.5 2115.5,1089.4 2117,1087.3C2118.4,1085.1 2119.8,1082.8 2120.9,1080.4C2122,1077.9 2122.8,1075.1 2123.8,1072.5C2124.8,1069.9 2125.8,1067.1 2126.8,1064.7C2127.7,1062.4 2128.7,1059.8 2129.7,1057.8C2130.5,1056.1 2131.7,1054 2132.6,1052.9C2133.3,1052.1 2134.5,1051.3 2135.2,1050.9C2135.6,1050.7 2136.1,1050.5 2136.6,1050.5C2137.1,1050.6 2138,1050.8 2138.5,1051.3C2139.3,1052.2 2140.6,1054.2 2141.4,1055.8C2142.4,1057.7 2143.4,1060.4 2144.4,1062.7C2145.4,1065 2146.3,1067.3 2147.3,1069.6C2148.3,1071.9 2149.3,1074.4 2150.3,1076.5C2151.2,1078.3 2152.1,1080.2 2153.2,1082C2154.3,1083.8 2155.7,1085.6 2157.1,1087.3C2158.6,1088.9 2160.4,1090.6 2162,1091.8C2163.5,1092.9 2165.2,1093.8 2166.9,1094.5C2168.7,1095.2 2170.8,1095.7 2172.8,1096.1C2175.4,1096.5 2179.3,1096.9 2182.6,1097.3C2185.8,1097.6 2189.1,1097.8 2192.4,1098.1C2196.6,1098.3 2202.8,1098.8 2208,1099C2213.9,1099.3 2224,1099.4 2227.2,1099.4" fill="none" stroke="#000" stroke-width="3.6" stroke-linejoin="round" stroke-linecap="butt"/>
<line x1="1520.8" y1="182" x2="1520.8" y2="1704" stroke="#000" stroke-width="6.5" stroke-linecap="round" stroke-dasharray="4.4 10.7"/>
<line x1="1806.9" y1="182" x2="1806.9" y2="1704" stroke="#000" stroke-width="6.5" stroke-linecap="round" stroke-dasharray="4.4 10.7"/>
<line x1="1520.8" y1="1702.7" x2="1520.8" y2="1724.3" stroke="#000" stroke-width="2" stroke-linecap="butt" />
<line x1="1806.9" y1="1702.7" x2="1806.9" y2="1724.3" stroke="#000" stroke-width="2" stroke-linecap="butt" />
<path d="M1544,1679.6C1544.9,1679.1 1548,1677.6 1549.7,1676.8C1551.2,1676.2 1552.7,1675 1554.2,1675C1555.7,1675 1557.2,1676.2 1558.7,1676.8C1560.4,1677.6 1563.4,1679.1 1564.4,1679.6" fill="none" stroke="#8cbcf4" stroke-width="5.4" stroke-linejoin="round" stroke-linecap="butt"/>
<path d="M1697,1679.6C1698,1679 1701.1,1676.7 1702.9,1675.9C1704.5,1675.1 1706.2,1674.4 1707.8,1674.4C1709.4,1674.4 1711.2,1675.1 1712.7,1675.9C1714.5,1676.7 1717.6,1679 1718.6,1679.6" fill="none" stroke="#8cbcf4" stroke-width="5.4" stroke-linejoin="round" stroke-linecap="butt"/>
<path d="M1722.5,1679.6C1723.5,1678.9 1726.6,1676.5 1728.4,1675.5C1729.9,1674.5 1731.6,1673.2 1733.3,1673.2C1734.9,1673.2 1736.6,1674.5 1738.1,1675.5C1739.8,1676.5 1742.2,1678.9 1743,1679.6" fill="none" stroke="#bcbcfc" stroke-width="5.4" stroke-linejoin="round" stroke-linecap="butt"/>
<path d="M1396,1679.6L1473.7,1679.6C1474.8,1679.6 1475,1677.8 1475.3,1676.8C1475.9,1675.2 1476.6,1672.1 1477.1,1669.8C1477.8,1667.1 1478.7,1662.9 1479.4,1660.4C1480,1658.4 1480.8,1656.2 1481.7,1654.5C1482.4,1653.1 1483.6,1651.4 1484.4,1650.5C1485,1649.9 1485.9,1648.9 1486.7,1649.1C1487.4,1649.4 1488.3,1651.1 1488.9,1652.2C1489.8,1653.7 1490.9,1656.5 1491.9,1658.1C1492.7,1659.4 1494,1661 1494.8,1661.6C1495.4,1662 1496.5,1662 1497.1,1661.6C1497.8,1661 1498.7,1659.3 1499.4,1658.1C1500.1,1656.7 1500.9,1654.3 1501.6,1653.4C1502.1,1652.7 1503.1,1651.8 1503.9,1652.2C1504.6,1652.6 1505.7,1654.4 1506.2,1655.7C1506.9,1657.9 1507.7,1662 1508.4,1665.1C1509.2,1668.4 1509.9,1673.2 1510.7,1675.7C1511.2,1677.2 1512.2,1678.7 1513.4,1679.6C1514.6,1680.5 1516.8,1681.1 1517.9,1681.1C1518.8,1681.1 1519.3,1679.6 1520.2,1679.6L2230.6,1679.6" fill="none" stroke="#00ff00" stroke-width="5.4" stroke-linejoin="round" stroke-linecap="butt"/>
<path d="M1396,1679.6L1416,1679.6C1417.5,1679.6 1418.2,1681.8 1419.4,1682.7C1420.4,1683.6 1421.7,1685.2 1422.8,1685C1423.8,1684.8 1425.1,1682.9 1425.5,1681.5C1426.3,1678.6 1427.1,1672.2 1427.7,1667.4C1428.5,1662 1429.3,1654.9 1430,1648.7C1430.8,1642.4 1431.5,1635.4 1432.3,1629.9C1432.9,1625.2 1433.8,1619.3 1434.5,1615.8C1435,1613.5 1436.1,1610.6 1436.8,1609.2C1437.3,1608.4 1438.3,1607.5 1439.1,1607.6C1439.8,1607.7 1440.9,1608.9 1441.3,1609.9C1442.1,1611.7 1443.1,1615.4 1443.6,1618.2C1444.4,1622.3 1445.2,1629.1 1445.9,1634.6C1446.6,1640.8 1447.4,1649.1 1448.1,1655.7C1448.8,1662 1449.6,1669.8 1450.4,1674.5C1450.9,1677.7 1451.9,1682.1 1452.7,1683.9C1453,1684.7 1454.1,1685.2 1454.9,1685C1455.8,1684.8 1456.9,1683.5 1457.9,1682.7C1458.9,1681.8 1459.7,1679.6 1461.3,1679.6L1531.5,1679.6C1533.1,1679.6 1534.7,1678.8 1536.1,1678C1537.6,1677.2 1539.4,1675.9 1540.6,1674.5C1542.1,1672.7 1543.6,1669.6 1545.1,1667.4C1546.6,1665.4 1548.2,1663.5 1549.7,1661.6C1551.2,1659.6 1552.8,1657.7 1554.2,1655.7C1555.7,1653.6 1557.4,1651 1558.7,1648.7C1560,1646.4 1560.9,1643.9 1562.1,1641.6C1563.8,1638.5 1567.4,1633.8 1568.9,1629.9C1570.3,1626.2 1570.5,1622.1 1571.1,1618.2C1571.9,1613.5 1572.7,1607.2 1573.4,1601.7C1574.1,1595.9 1574.9,1589.2 1575.7,1583C1576.4,1576.3 1577.2,1568.9 1577.9,1561.8C1578.7,1554.4 1579.5,1546.2 1580.2,1538.4C1580.9,1530.2 1581.7,1521.2 1582.5,1512.5C1583.2,1503.6 1584,1493.8 1584.7,1484.4C1585.5,1474.6 1586.3,1464 1587,1453.9C1587.7,1443.3 1588.6,1432 1589.3,1421C1590,1409.7 1590.6,1397.6 1591.2,1385.8C1591.8,1373.7 1592.5,1360.8 1593.1,1348.3C1593.7,1335.4 1594.3,1321.7 1594.9,1308.4C1595.6,1295.1 1596.2,1281.8 1596.8,1268.5C1597.4,1255.2 1598,1241.5 1598.7,1228.6C1599.3,1216.1 1599.9,1202.8 1600.6,1191C1601.1,1180.1 1601.8,1167.2 1602.5,1158.2C1603,1151.1 1603.9,1141.9 1604.5,1137.1C1604.9,1134.3 1605.8,1130.5 1606.3,1128.8C1606.5,1128.2 1607,1127 1607.5,1127.2C1607.9,1127.4 1608.8,1129 1609,1130C1609.6,1132.4 1610.4,1137.8 1610.8,1141.7C1611.4,1148.4 1612.3,1160.5 1612.9,1169.9C1613.6,1180.9 1614.4,1194.9 1615,1207.5C1615.7,1220.8 1616.5,1235.6 1617.1,1249.7C1617.8,1264.6 1618.5,1281 1619.2,1296.6C1619.9,1312.3 1620.6,1327.9 1621.3,1343.6C1622,1359.2 1622.7,1374.9 1623.3,1390.5C1624,1406.2 1624.7,1421.8 1625.4,1437.4C1626.2,1453.1 1627,1469.5 1627.7,1484.4C1628.4,1498.5 1629.2,1513.3 1630,1526.6C1630.7,1539.1 1631.6,1554.4 1632.2,1564.2C1632.7,1571.2 1633.3,1580.1 1634.1,1585.3C1634.6,1588.7 1636.2,1594 1636.9,1595.2C1637.5,1596.1 1638.3,1593.4 1638.5,1592.3C1639.1,1589.5 1639.8,1583 1640.3,1578.3C1641,1572 1641.8,1562.6 1642.6,1554.8C1643.3,1547 1644.1,1537.6 1644.8,1531.3C1645.4,1526.6 1646.4,1520.2 1647.1,1517.2C1647.4,1516 1648.3,1513.7 1648.9,1513.7C1649.5,1513.7 1650.4,1516 1650.7,1517.2C1651.4,1519.4 1652.1,1523.5 1652.8,1526.6C1653.5,1530.2 1654.1,1535.2 1655,1538.4C1655.8,1540.9 1657.5,1543 1658.4,1545.4C1659.5,1548.1 1660.4,1551.6 1661.2,1554.8C1662,1558.3 1662.8,1562.6 1663.4,1566.5C1664.2,1571.2 1665,1577.5 1665.7,1583C1666.4,1588.8 1667.2,1595.5 1668,1601.7C1668.7,1608 1669.5,1615 1670.2,1620.5C1670.9,1625.2 1671.7,1630.9 1672.5,1634.6C1673.1,1637.4 1674,1641 1674.8,1642.8C1675.2,1643.8 1676.3,1645.3 1677,1645.1C1677.8,1645 1678.9,1643 1679.3,1641.6C1680,1639.1 1681,1633.8 1681.6,1629.9C1682.3,1624.8 1683.1,1617.4 1683.8,1611.1C1684.6,1604.9 1685.3,1597.4 1686.1,1592.3C1686.7,1588.4 1687.6,1583.3 1688.4,1580.6C1688.8,1578.9 1689.9,1576.9 1690.6,1575.9C1691.1,1575.2 1692.1,1574.5 1692.9,1574.7C1693.6,1574.9 1694.6,1576.1 1695.2,1577.1C1696,1578.7 1697.2,1581.7 1698.1,1584.1C1699.2,1587.1 1700.4,1591.2 1701.5,1594.7C1702.6,1598.2 1704.2,1603 1704.9,1605.3C1705.2,1606.2 1705.4,1607.1 1705.9,1608C1706.5,1609.1 1707.6,1611 1708.8,1612C1709.9,1613.1 1711.3,1614 1712.7,1614.5C1714.2,1615 1716.1,1614.5 1717.6,1615.1C1719.1,1615.6 1720.3,1616.7 1721.5,1617.7C1722.8,1618.7 1724.2,1619.9 1725.4,1621.2C1726.9,1622.6 1728.7,1624.6 1730.3,1626.2C1731.9,1627.8 1733.6,1629.3 1735.2,1630.7C1736.8,1632.1 1738.6,1633.7 1740.1,1634.7C1741.3,1635.6 1742.7,1636.4 1744,1636.8C1745.3,1637.1 1746.8,1637 1747.9,1636.8C1749,1636.5 1750,1636 1750.9,1635.3C1751.8,1634.6 1752.9,1633.4 1753.8,1632.3C1754.8,1631.2 1755.8,1629.7 1756.7,1628.7C1757.6,1627.7 1758.7,1626.7 1759.7,1626.2C1760.6,1625.8 1761.6,1625.4 1762.6,1625.6C1763.6,1625.8 1764.8,1626.7 1765.5,1627.6C1766.5,1628.8 1767.6,1630.7 1768.5,1632.3C1769.5,1634.1 1770.4,1636.4 1771.4,1638.4C1772.4,1640.4 1773.4,1642.4 1774.3,1644.5C1775.3,1646.5 1776.3,1648.5 1777.3,1650.5C1778.3,1652.6 1779.2,1654.9 1780.2,1656.6C1781.1,1658.1 1782,1659.5 1783.2,1660.7C1784.3,1661.8 1785.6,1663 1787.1,1663.7C1788.7,1664.4 1790.9,1664.8 1792.9,1665.1C1795.2,1665.5 1798.5,1665.3 1800.8,1665.7C1802.8,1666.1 1804.7,1667.1 1806.6,1667.8C1808.6,1668.4 1810.5,1669.3 1812.5,1669.8C1814.4,1670.3 1816.4,1670.6 1818.4,1670.8C1821,1671 1824.9,1671.2 1828.2,1671.2L1841.9,1671.2C1843.2,1671.2 1844.5,1671.4 1845.8,1671.8C1847.1,1672.2 1848.4,1673.1 1849.7,1673.8C1851,1674.6 1852.3,1675.6 1853.6,1676.5C1855.1,1677.4 1857.2,1679.4 1858.5,1679.6C1859.6,1679.8 1860.6,1678.6 1861.4,1677.9C1862.6,1676.9 1864,1675 1865.3,1673.8C1866.5,1672.8 1867.9,1671.8 1869.3,1671.2C1870.5,1670.6 1871.8,1670.4 1873.2,1670.2C1874.8,1670 1877.1,1669.8 1879,1669.8C1881.3,1669.7 1884.6,1669.6 1886.9,1669.8C1888.8,1669.9 1890.9,1670.2 1892.7,1670.8C1894.5,1671.4 1896.1,1672.3 1897.6,1673.2C1899.3,1674.2 1900.8,1675.5 1902.5,1676.5C1904.3,1677.5 1906.2,1679.6 1908.4,1679.6L2230.6,1679.6" fill="none" stroke="#aa00e0" stroke-width="5.4" stroke-linejoin="round" stroke-linecap="butt"/>
<path d="M1520.2,1679.6C1520.6,1678.9 1521.7,1676.7 1522.5,1675.7C1523.1,1674.8 1523.9,1674 1524.7,1673.3C1525.9,1672.3 1527.8,1670.6 1529.3,1669.8C1530.7,1669.1 1532.2,1668.8 1533.8,1668.6C1535.7,1668.4 1538.3,1668.7 1540.6,1668.6C1542.9,1668.5 1545.1,1668.2 1547.4,1667.9C1549.7,1667.6 1551.9,1667.4 1554.2,1667C1556.5,1666.6 1558.9,1666 1561,1665.6C1562.9,1665.2 1565.1,1664.5 1566.7,1664.6C1567.9,1664.7 1569.2,1665.4 1570.1,1666.3C1571.1,1667.3 1571.9,1669.4 1572.8,1671C1573.7,1672.6 1574.7,1675.4 1575.7,1676.4C1576.4,1677.1 1577.8,1677.2 1578.7,1676.8C1579.6,1676.4 1580.4,1674.8 1581.4,1674C1582.4,1673.2 1583.7,1672.3 1584.8,1672.1C1585.9,1672 1587.2,1672.6 1588.2,1673.3C1589.3,1674.1 1590.5,1675.8 1591.6,1676.8C1592.5,1677.8 1593.2,1679.6 1594.5,1679.6L1695.1,1679.6C1696.2,1679.6 1697.2,1678.7 1698,1677.9C1699,1676.9 1700.2,1675.3 1701,1673.8C1701.9,1671.8 1703.1,1668.3 1703.9,1665.7C1704.6,1663.4 1705,1660 1705.9,1658.6C1706.4,1657.8 1707.8,1657.3 1708.8,1657.6C1709.8,1658 1710.9,1659.7 1711.7,1660.7C1712.5,1661.6 1712.9,1663.4 1713.7,1663.7C1714.5,1664 1715.9,1663.4 1716.6,1662.7C1717.6,1661.7 1718.9,1659.5 1719.6,1657.6C1720.4,1655.4 1720.9,1651.5 1721.5,1649.5C1722,1648.1 1722.7,1646.3 1723.5,1645.5C1724.1,1644.8 1725.2,1644.2 1726,1644.5C1726.8,1644.7 1727.6,1646 1728.4,1646.9C1729.2,1647.9 1730.3,1649.7 1731.3,1650.5C1732.1,1651.2 1733.2,1651.8 1734.2,1652C1735.4,1652.1 1736.8,1651.7 1738.1,1651.5C1739.8,1651.4 1742.4,1651.3 1744,1651.1C1745.3,1651 1746.7,1651 1747.9,1650.5C1749.2,1650 1750.5,1648.8 1751.8,1648.1C1753.1,1647.4 1754.4,1646.5 1755.8,1646.1C1757,1645.7 1758.3,1645.5 1759.7,1645.5C1761.3,1645.5 1763.7,1645.7 1765.5,1646.1C1767.2,1646.4 1769,1646.8 1770.4,1647.5C1771.9,1648.2 1773.1,1649.2 1774.3,1650.1C1775.6,1651.1 1777,1652.6 1778.3,1653.6C1779.5,1654.5 1781,1656.2 1782.2,1656.2C1783.3,1656.2 1784.2,1654.6 1785.1,1653.6C1786.1,1652.5 1787.1,1650.4 1788,1649.5C1788.8,1648.8 1790,1648.1 1791,1648.1C1792,1648.1 1793.1,1648.8 1793.9,1649.5C1794.9,1650.4 1795.9,1652.6 1796.8,1653.6C1797.7,1654.4 1798.8,1655.3 1799.8,1655.6C1800.7,1655.9 1801.8,1655.7 1802.7,1655.6C1803.9,1655.4 1805.3,1654.7 1806.6,1654.6C1808.3,1654.4 1810.9,1654.5 1812.5,1654.6C1813.8,1654.6 1815.3,1654.6 1816.4,1655C1817.5,1655.4 1818.5,1656.2 1819.4,1657C1820.3,1658 1821.5,1659.3 1822.3,1660.7C1823.3,1662.3 1824.3,1664.7 1825.2,1666.7C1826.2,1668.9 1827.2,1671.7 1828.2,1673.8C1829.1,1675.8 1829.8,1678.6 1831.1,1679.6C1832.4,1680.6 1834.5,1680.2 1836,1679.6C1837.5,1679 1839,1677.4 1839.9,1675.9C1841,1673.9 1841.9,1670.1 1842.8,1667.8C1843.6,1665.7 1844.6,1663 1845.4,1661.7C1845.9,1660.8 1846.8,1659.8 1847.7,1659.7C1848.6,1659.5 1849.9,1660 1850.7,1660.7C1851.6,1661.4 1852.7,1663 1853.6,1664.3C1854.7,1666 1856.2,1668.8 1857.5,1670.8C1858.8,1672.7 1860.3,1675 1861.4,1676.5C1862.3,1677.6 1862.9,1679.6 1864.4,1679.6L1879,1679.6C1881.1,1679.6 1881.7,1676.5 1883,1674.8C1884.3,1673 1885.6,1670.8 1886.9,1668.8C1888.2,1666.7 1889.5,1664.5 1890.8,1662.7C1892,1660.9 1893.4,1658.8 1894.7,1657.6C1895.8,1656.6 1897.1,1655.8 1898.6,1655.6C1900.2,1655.4 1902.5,1656.2 1904.5,1656.6C1906.4,1657.1 1908.6,1658.1 1910.3,1658.2C1912,1658.4 1913.8,1657.8 1915.2,1657.6C1916.5,1657.5 1918,1656.9 1919.2,1657.2C1920.3,1657.6 1921.2,1658.8 1922.1,1659.7C1923.1,1660.6 1924,1662.3 1925,1663.1C1925.9,1663.8 1927,1664.6 1928,1664.7C1928.9,1664.8 1930.1,1664.3 1930.9,1663.7C1932,1662.9 1933.5,1660.7 1934.8,1659.7C1936,1658.7 1937.8,1657.7 1938.7,1657.2C1939.2,1657 1939.6,1656.6 1940.1,1656.6C1941.4,1656.5 1944.6,1656.3 1946.3,1656.6C1947.8,1656.8 1949.1,1658.1 1950.5,1658.1C1951.9,1658.1 1953.6,1657.6 1954.7,1656.6C1955.9,1655.4 1956.8,1652.5 1957.8,1651.2C1958.7,1650.1 1959.9,1648.8 1961,1648.6C1962,1648.4 1963.2,1649.3 1964.1,1650.1C1965.3,1651.3 1966.9,1653.7 1968.3,1655.5C1969.7,1657.3 1971,1659.6 1972.4,1660.9C1973.6,1662.1 1975.4,1663.4 1976.6,1663.7C1977.6,1664 1978.9,1663.7 1979.7,1663.1C1981,1662.3 1982.5,1659.6 1983.9,1658.8C1985.1,1658 1986.7,1658.1 1988.1,1658.1C1989.5,1658.1 1990.9,1658.3 1992.3,1658.8C1993.7,1659.2 1995.1,1660.1 1996.4,1660.9C1997.8,1661.8 1999.4,1662.9 2000.6,1664.2C2001.8,1665.4 2002.8,1667 2003.7,1668.5C2004.8,1670.1 2005.9,1672.1 2006.9,1673.9C2007.9,1675.7 2009,1678.6 2010,1679.6C2010.8,1680.3 2012.1,1679.6 2013.1,1679.6L2057,1679.6C2057.8,1679.6 2058.5,1678.8 2059.1,1678.2C2059.9,1677.3 2061.2,1675.4 2062.2,1673.9C2063.2,1672.3 2064.3,1669.7 2065.3,1668.5C2066.1,1667.5 2067.3,1666.7 2068.5,1666.3C2069.7,1665.9 2071.4,1665.7 2072.6,1665.9C2073.8,1666.1 2074.9,1666.6 2075.8,1667.4C2076.8,1668.4 2077.9,1670.2 2078.9,1671.7C2079.9,1673.3 2081,1676.2 2082,1677.1C2082.8,1677.8 2084.4,1677.8 2085.2,1677.1C2086.2,1676.2 2087.2,1673.3 2088.3,1671.7C2089.2,1670.2 2090.4,1668.4 2091.4,1667.4C2092.3,1666.6 2093.4,1666.2 2094.5,1665.9C2095.8,1665.5 2097.5,1665.9 2098.7,1665.2C2099.9,1664.6 2101.1,1663.3 2101.9,1662C2102.7,1660.4 2103.2,1657 2103.9,1655.5C2104.4,1654.6 2105.2,1653.6 2106,1653.4C2106.8,1653.1 2108.1,1653.1 2108.7,1653.8C2109.5,1654.7 2110.3,1657 2110.8,1658.8C2111.5,1661.2 2112.2,1665.6 2112.9,1668.5C2113.5,1671 2114.2,1674.6 2115,1676.1C2115.4,1676.9 2116.7,1677.6 2117.5,1677.1C2118.3,1676.6 2119.2,1674.3 2120,1672.8C2120.9,1671.3 2121.8,1669.1 2122.7,1668.1C2123.5,1667.2 2124.8,1666.8 2125.9,1666.8C2126.9,1666.8 2127.9,1667.8 2129,1668.1C2130.2,1668.3 2131.8,1668.6 2133.2,1668.5C2134.6,1668.4 2136.1,1667.8 2137.3,1667.4C2138.4,1667 2139.3,1666.2 2140.5,1665.9C2141.9,1665.6 2143.9,1665.5 2145.7,1665.5L2171.8,1665.5C2173.2,1665.5 2174,1667.3 2174.9,1668.5C2176,1669.9 2177,1672.1 2178,1673.9C2179.1,1675.7 2180.3,1678.6 2181.2,1679.6C2181.6,1680.1 2182.9,1679.6 2183.3,1679.6" fill="none" stroke="#606060" stroke-width="5.4" stroke-linejoin="round" stroke-linecap="butt"/>
<path d="M1396,1679.6L1470.3,1679.6C1472.2,1679.6 1472.1,1676.3 1472.6,1674.5C1473.4,1672.1 1474.1,1668.2 1474.9,1665.1C1475.6,1662 1476.4,1658.4 1477.1,1655.7C1477.8,1653.3 1478.7,1650.4 1479.4,1648.7C1480,1647.4 1480.7,1645.9 1481.7,1645.1C1482.6,1644.4 1483.9,1644.1 1485.1,1644C1486.2,1643.9 1487.5,1644.1 1488.5,1644.4C1489.5,1644.8 1490.4,1645.6 1491.2,1646.3C1492.1,1647.2 1493.3,1649.1 1494.1,1649.8C1494.8,1650.3 1495.7,1650.8 1496.4,1650.5C1497.2,1650.3 1498,1649.1 1498.7,1648.2C1499.6,1646.9 1500.9,1644.5 1502.1,1642.8C1503.2,1641.2 1504.3,1639.5 1505.5,1638.1C1506.5,1636.8 1508,1635.3 1508.9,1634.6C1509.4,1634.2 1510.1,1633.8 1510.7,1634.1C1511.4,1634.5 1512.5,1635.8 1513,1636.9C1513.7,1639 1514.6,1643.2 1515.2,1646.3C1516,1650.2 1516.7,1656.1 1517.5,1660.4C1518.2,1664.3 1519,1668.9 1519.7,1672.1C1520.3,1674.7 1521.2,1678.4 1522,1679.6C1522.5,1680.4 1523.8,1679.6 1524.7,1679.6C1525.8,1679.6 1527,1679.6 1528.1,1679.6L2230.6,1679.6" fill="none" stroke="#f2b87c" stroke-width="5.4" stroke-linejoin="round" stroke-linecap="butt"/>
<path d="M1396,1679.6L1416,1679.6C1417.3,1679.6 1418.2,1680.9 1419.4,1681.5C1420.5,1682.2 1421.7,1683.4 1422.8,1683.4C1423.8,1683.4 1424.9,1682.4 1425.5,1681.5C1426.3,1680.2 1427.2,1677.7 1427.7,1675.7C1428.5,1672.9 1429.3,1668.6 1430,1665.1C1430.8,1661.4 1431.5,1656.7 1432.3,1653.4C1432.9,1650.6 1433.8,1647.2 1434.5,1645.1C1435.1,1643.7 1436.1,1642 1436.8,1641.2C1437.4,1640.6 1438.3,1640.1 1439.1,1640.2C1439.8,1640.4 1440.8,1641.3 1441.3,1642.1C1442.1,1643.3 1443.1,1645.6 1443.6,1647.5C1444.4,1650.2 1445.2,1654.5 1445.9,1658.1C1446.6,1661.8 1447.4,1666.2 1448.1,1669.8C1448.8,1673.1 1449.6,1677.3 1450.4,1679.6C1450.9,1681 1451.9,1682.8 1452.7,1683.4C1453.2,1683.9 1454.2,1683.7 1454.9,1683.4C1455.8,1683 1456.8,1681.7 1457.9,1681.1C1458.9,1680.4 1460,1679.6 1461.3,1679.6L1506.6,1679.6C1507.8,1679.6 1509,1679.3 1510,1678.7C1511.1,1678 1512.4,1676.8 1513.4,1675.7C1514.5,1674.4 1515.7,1672.4 1516.8,1671C1517.9,1669.6 1519.3,1667.9 1520.2,1667C1520.8,1666.4 1521.7,1665.9 1522.5,1665.6C1523.2,1665.3 1524,1665 1524.7,1665.1C1525.6,1665.2 1526.7,1665.7 1527.5,1666.3C1528.4,1667 1529.5,1668.3 1530.4,1669.3C1531.5,1670.5 1532.7,1671.9 1533.8,1673.3C1534.9,1674.8 1536.1,1676.6 1537.2,1678C1538.3,1679.4 1539.5,1680.9 1540.6,1682C1541.6,1682.9 1543.1,1683.9 1544,1684.3C1544.7,1684.6 1545.6,1684.7 1546.3,1684.3C1547,1683.9 1548.1,1682.6 1548.5,1681.5C1549.2,1679.9 1549.7,1676.9 1550.1,1674.5C1550.7,1671 1551.4,1665.1 1551.9,1660.4C1552.5,1655.3 1553.1,1649.4 1553.7,1644C1554.3,1638.5 1554.9,1633 1555.6,1627.5C1556.2,1622.1 1556.9,1616.2 1557.6,1611.1C1558.3,1606.4 1559.1,1601.3 1559.9,1597C1560.6,1593.1 1561.2,1589 1562.1,1585.3C1563,1581.7 1564.4,1577.7 1565.5,1574.7C1566.5,1572.3 1567.8,1569.9 1568.9,1567.7C1570,1565.7 1571.3,1563.8 1572.3,1561.8C1573.5,1559.7 1574.8,1557.2 1575.7,1554.8C1576.8,1552.1 1577.8,1548.6 1578.7,1545.4C1579.6,1541.9 1580.6,1537.6 1581.4,1533.7C1582.2,1529.4 1583,1524.3 1583.7,1519.6C1584.4,1514.5 1585.1,1508.2 1585.9,1503.2C1586.7,1498.4 1587.7,1493.2 1588.6,1489.1C1589.5,1485.5 1590.6,1481.6 1591.6,1478.5C1592.5,1475.7 1593.6,1473.1 1594.5,1470.3C1595.5,1467.4 1596.6,1464.1 1597.3,1460.9C1598.1,1457 1598.8,1451.5 1599.5,1446.8C1600.3,1441.8 1601,1435.9 1601.8,1430.4C1602.5,1424.9 1603.3,1418.7 1604.1,1414C1604.7,1410 1605.6,1405.4 1606.3,1402.2C1606.9,1399.9 1607.7,1397.5 1608.6,1395.2C1609.5,1392.9 1610.9,1390.3 1612,1388.2C1613,1386.2 1614.3,1384.3 1615.4,1382.3C1616.5,1380.3 1617.7,1378.4 1618.8,1376.4C1619.9,1374.3 1621.3,1371.8 1622.2,1369.4C1623.2,1366.7 1624.1,1363.2 1624.9,1360C1625.7,1356.7 1626.5,1353 1627.2,1349.4C1627.9,1345.7 1628.8,1341.6 1629.4,1337.7C1630.2,1333.2 1631,1327.5 1631.7,1322.5C1632.5,1316.8 1633.2,1309.2 1634,1303.7C1634.6,1299 1635.5,1293.3 1636.2,1289.6C1636.8,1286.8 1637.7,1283.1 1638.5,1281.4C1638.9,1280.4 1640,1278.8 1640.8,1279C1641.5,1279.2 1642.6,1281.2 1643,1282.6C1643.8,1285.1 1644.7,1290.4 1645.3,1294.3C1646.1,1299 1646.9,1305.2 1647.6,1310.7C1648.3,1316.6 1649.1,1323.6 1649.8,1329.5C1650.5,1335 1651.4,1341.8 1652.1,1345.9C1652.6,1348.7 1653.4,1352.5 1653.9,1354.1C1654.1,1354.8 1654.7,1356 1655.3,1355.8C1655.8,1355.6 1656.8,1354.1 1657.1,1353C1657.7,1350.1 1658.4,1343.6 1658.9,1338.9C1659.6,1332.2 1660.5,1321.7 1661.2,1313.1C1661.9,1303.7 1662.7,1292.7 1663.4,1282.6C1664.2,1272.4 1664.9,1261 1665.7,1252C1666.4,1244.2 1667.2,1234.8 1668,1228.6C1668.5,1223.9 1669.5,1217.4 1670.2,1214.5C1670.6,1213.1 1671.7,1211 1672.5,1211C1673.2,1211 1674.4,1213.2 1674.8,1214.5C1675.5,1217 1676.4,1222.3 1677,1226.2C1677.8,1230.9 1678.6,1237.2 1679.3,1242.7C1680,1248.9 1680.8,1256.7 1681.6,1263.8C1682.4,1272 1683.5,1282.6 1684.5,1291.9C1685.5,1301.3 1686.5,1311.1 1687.4,1320.1C1688.4,1328.7 1689.3,1337.3 1690.2,1345.9C1691.1,1354.5 1692,1363.1 1692.9,1371.7C1693.8,1380.7 1694.9,1390.5 1695.8,1399.9C1696.8,1409.3 1697.8,1419.1 1698.8,1428.1C1699.7,1436.7 1700.6,1446.1 1701.5,1453.9C1702.3,1460.9 1703.3,1469.1 1704.2,1475C1705,1479.7 1706.1,1485.2 1707.2,1489.1C1708,1492.3 1709.2,1495.7 1710.6,1498.5C1711.8,1501 1714.4,1504 1715.1,1505.5C1715.4,1506.2 1714.3,1507 1714.7,1507.7C1715.1,1508.6 1716.7,1509.6 1717.6,1510.7C1718.6,1511.9 1719.6,1513.4 1720.5,1514.8C1721.5,1516.3 1722.6,1518.1 1723.5,1519.8C1724.4,1521.9 1725.5,1524.6 1726.4,1526.9C1727.4,1529.5 1728.4,1532.5 1729.3,1535C1730.3,1537.4 1731.3,1539.8 1732.3,1542.1C1733.3,1544.5 1734.3,1546.8 1735.2,1549.2C1736.2,1551.9 1737.2,1555.3 1738.1,1558.3C1739.1,1561.4 1740.3,1564.9 1741.1,1567.5C1741.7,1569.5 1742.4,1572.2 1743,1573.5C1743.4,1574.4 1744.2,1575.4 1745,1575.6C1745.8,1575.7 1747.1,1575.1 1747.9,1574.6C1748.9,1573.9 1749.9,1572.4 1750.9,1571.5C1751.8,1570.7 1752.9,1569.9 1753.8,1569.5C1754.5,1569.2 1755.4,1568.9 1756.1,1569.1C1757,1569.3 1758,1569.8 1758.7,1570.5C1759.5,1571.4 1760.6,1573.1 1761.2,1574.6C1762,1576.4 1763,1579.2 1763.6,1581.6C1764.3,1584.5 1764.9,1588.4 1765.5,1591.8C1766.2,1595.5 1766.8,1600.2 1767.5,1603.9C1768.1,1607.3 1768.8,1611.2 1769.5,1614.1C1770,1616.5 1770.8,1618.8 1771.4,1621.2C1772.1,1623.5 1772.7,1626.2 1773.4,1628.2C1773.9,1630 1774.5,1631.8 1775.3,1633.3C1776.1,1634.8 1777.3,1636.4 1778.3,1637.4C1779.1,1638.2 1780.3,1638.6 1781.2,1639.4C1782.2,1640.2 1783.2,1641.3 1784.1,1642.4C1785.1,1643.6 1786.2,1645 1787.1,1646.5C1788,1648.2 1789.1,1650.5 1790,1652.6C1791,1654.9 1792,1658 1792.9,1660.7C1793.9,1663.4 1794.9,1666.2 1795.9,1668.8C1796.8,1671.2 1797.9,1674.1 1798.8,1675.9C1799.5,1677.2 1800.3,1679 1801.2,1679.6C1801.8,1680.1 1802.8,1679.6 1803.7,1679.6C1804.9,1679.6 1807,1679.6 1808.6,1679.6C1810.4,1679.6 1812.5,1679.6 1814.5,1679.6L2230.6,1679.6" fill="none" stroke="#996322" stroke-width="5.4" stroke-linejoin="round" stroke-linecap="butt"/>
<line x1="1248.9" y1="1702.7" x2="2229.4" y2="1702.7" stroke="#000" stroke-width="2.0" stroke-linecap="butt" />
<line x1="1249.9" y1="1702.7" x2="1249.9" y2="1724.3" stroke="#000" stroke-width="2.0" stroke-linecap="butt" />
<line x1="1289" y1="1702.7" x2="1289" y2="1713.9" stroke="#000" stroke-width="2.0" stroke-linecap="butt" />
<line x1="1328.2" y1="1702.7" x2="1328.2" y2="1713.9" stroke="#000" stroke-width="2.0" stroke-linecap="butt" />
<line x1="1367.3" y1="1702.7" x2="1367.3" y2="1713.9" stroke="#000" stroke-width="2.0" stroke-linecap="butt" />
<line x1="1406.5" y1="1702.7" x2="1406.5" y2="1713.9" stroke="#000" stroke-width="2.0" stroke-linecap="butt" />
<line x1="1445.6" y1="1702.7" x2="1445.6" y2="1724.3" stroke="#000" stroke-width="2.0" stroke-linecap="butt" />
<line x1="1484.7" y1="1702.7" x2="1484.7" y2="1713.9" stroke="#000" stroke-width="2.0" stroke-linecap="butt" />
<line x1="1523.9" y1="1702.7" x2="1523.9" y2="1713.9" stroke="#000" stroke-width="2.0" stroke-linecap="butt" />
<line x1="1563" y1="1702.7" x2="1563" y2="1713.9" stroke="#000" stroke-width="2.0" stroke-linecap="butt" />
<line x1="1602.2" y1="1702.7" x2="1602.2" y2="1713.9" stroke="#000" stroke-width="2.0" stroke-linecap="butt" />
<line x1="1641.3" y1="1702.7" x2="1641.3" y2="1724.3" stroke="#000" stroke-width="2.0" stroke-linecap="butt" />
<line x1="1680.4" y1="1702.7" x2="1680.4" y2="1713.9" stroke="#000" stroke-width="2.0" stroke-linecap="butt" />
<line x1="1719.6" y1="1702.7" x2="1719.6" y2="1713.9" stroke="#000" stroke-width="2.0" stroke-linecap="butt" />
<line x1="1758.7" y1="1702.7" x2="1758.7" y2="1713.9" stroke="#000" stroke-width="2.0" stroke-linecap="butt" />
<line x1="1797.9" y1="1702.7" x2="1797.9" y2="1713.9" stroke="#000" stroke-width="2.0" stroke-linecap="butt" />
<line x1="1837" y1="1702.7" x2="1837" y2="1724.3" stroke="#000" stroke-width="2.0" stroke-linecap="butt" />
<line x1="1876.1" y1="1702.7" x2="1876.1" y2="1713.9" stroke="#000" stroke-width="2.0" stroke-linecap="butt" />
<line x1="1915.3" y1="1702.7" x2="1915.3" y2="1713.9" stroke="#000" stroke-width="2.0" stroke-linecap="butt" />
<line x1="1954.4" y1="1702.7" x2="1954.4" y2="1713.9" stroke="#000" stroke-width="2.0" stroke-linecap="butt" />
<line x1="1993.6" y1="1702.7" x2="1993.6" y2="1713.9" stroke="#000" stroke-width="2.0" stroke-linecap="butt" />
<line x1="2032.7" y1="1702.7" x2="2032.7" y2="1724.3" stroke="#000" stroke-width="2.0" stroke-linecap="butt" />
<line x1="2071.8" y1="1702.7" x2="2071.8" y2="1713.9" stroke="#000" stroke-width="2.0" stroke-linecap="butt" />
<line x1="2111" y1="1702.7" x2="2111" y2="1713.9" stroke="#000" stroke-width="2.0" stroke-linecap="butt" />
<line x1="2150.1" y1="1702.7" x2="2150.1" y2="1713.9" stroke="#000" stroke-width="2.0" stroke-linecap="butt" />
<line x1="2189.3" y1="1702.7" x2="2189.3" y2="1713.9" stroke="#000" stroke-width="2.0" stroke-linecap="butt" />
<line x1="2228.4" y1="1702.7" x2="2228.4" y2="1724.3" stroke="#000" stroke-width="2.0" stroke-linecap="butt" />
<text x="1238.31" y="1767.00" font-size="43.86" font-weight="bold" font-style="normal" letter-spacing="2.20">5</text>
<text x="1420.03" y="1767.00" font-size="43.86" font-weight="bold" font-style="normal" letter-spacing="2.20">10</text>
<text x="1615.38" y="1767.00" font-size="43.86" font-weight="bold" font-style="normal" letter-spacing="2.20">15</text>
<text x="1812.11" y="1767.00" font-size="43.86" font-weight="bold" font-style="normal" letter-spacing="2.20">20</text>
<text x="2007.47" y="1767.00" font-size="43.86" font-weight="bold" font-style="normal" letter-spacing="2.20">25</text>
<text x="2203.85" y="1767.00" font-size="43.86" font-weight="bold" font-style="normal" letter-spacing="2.20">30</text>
<text x="1597.50" y="1849.80" font-size="52.43" font-weight="bold" font-style="normal" textLength="284.58" lengthAdjust="spacingAndGlyphs">Time in min</text>
<line x1="1768.5" y1="141.6" x2="1830.6" y2="141.6" stroke="#0000ff" stroke-width="3.0" stroke-linecap="butt" />
<text x="1863.60" y="161.20" font-size="52.84" font-weight="normal" font-style="normal" textLength="353.10" lengthAdjust="spacingAndGlyphs">Anticoagulation</text>
<line x1="1890.8" y1="672.6" x2="1952.8" y2="672.6" stroke="#000" stroke-width="3.0" stroke-linecap="butt" />
<text x="1985.77" y="692.70" font-size="53.35" font-weight="normal" font-style="normal" textLength="197.18" lengthAdjust="spacingAndGlyphs">SEC-UV</text>
<text x="1886.67" y="1221.50" font-size="46.41" font-weight="bold" font-style="normal" textLength="133.50" lengthAdjust="spacingAndGlyphs">PSCs:</text>
<line x1="1893.3" y1="1257.2" x2="1957" y2="1257.2" stroke="#996322" stroke-width="5.0" stroke-linecap="butt" />
<text x="1986.79" y="1271.80" font-size="45.80" font-weight="normal" font-style="normal" textLength="226.28" lengthAdjust="spacingAndGlyphs">PA2B3_RR</text>
<line x1="1893.3" y1="1300.7" x2="1957" y2="1300.7" stroke="#aa00e0" stroke-width="5.0" stroke-linecap="butt" />
<text x="1986.79" y="1315.00" font-size="45.80" font-weight="normal" font-style="normal" textLength="226.28" lengthAdjust="spacingAndGlyphs">PA2B8_RR</text>
<line x1="1893.3" y1="1340.5" x2="1957" y2="1340.5" stroke="#f2b87c" stroke-width="5.0" stroke-linecap="butt" />
<text x="1988.90" y="1355.20" font-size="45.80" font-weight="normal" font-style="normal" textLength="144.78" lengthAdjust="spacingAndGlyphs">SL3_Si</text>
<line x1="1893.3" y1="1383.1" x2="1957" y2="1383.1" stroke="#00ff00" stroke-width="5.0" stroke-linecap="butt" />
<text x="1988.90" y="1398.70" font-size="45.80" font-weight="normal" font-style="normal" textLength="144.78" lengthAdjust="spacingAndGlyphs">SL4_Si</text>
<line x1="1893.3" y1="1425.6" x2="1957" y2="1425.6" stroke="#8cbcf4" stroke-width="5.0" stroke-linecap="butt" />
<text x="1988.90" y="1440.20" font-size="45.80" font-weight="normal" font-style="normal" textLength="144.78" lengthAdjust="spacingAndGlyphs">SL5_Si</text>
<line x1="1893.3" y1="1466.4" x2="1957" y2="1466.4" stroke="#bcbcfc" stroke-width="5.0" stroke-linecap="butt" />
<text x="1988.90" y="1480.40" font-size="45.80" font-weight="normal" font-style="normal" textLength="144.78" lengthAdjust="spacingAndGlyphs">SL6_Si</text>
<line x1="1893.3" y1="1505.5" x2="1957" y2="1505.5" stroke="#606060" stroke-width="5.0" stroke-linecap="butt" />
<text x="1988.90" y="1520.20" font-size="45.80" font-weight="normal" font-style="normal" textLength="144.78" lengthAdjust="spacingAndGlyphs">SL7_Si</text>
</g>
<g id="panelC">
<text x="70.08" y="1950.60" font-size="68.30" font-weight="bold" font-style="italic" textLength="45.06" lengthAdjust="spacingAndGlyphs">C</text>
<text x="197.82" y="1950.60" font-size="68.30" font-weight="normal" font-style="normal" textLength="425.67" lengthAdjust="spacingAndGlyphs">Procoagulation</text>
<polyline points="174.1,2439.4 208.1,2439.4" fill="none" stroke="#ff0000" stroke-width="2.6" stroke-linejoin="round" stroke-linecap="butt" />
<polyline points="208.1,2439.4 216.5,2432.2 224.9,2120.6 233.3,2193 241.6,2199 250,2191.3 258.4,2187 266.8,2175 275.2,2158.9 283.6,2202.6 292,2240.9 300.3,2267.3 308.7,2285.3 317.1,2261.3 325.5,2202.6 333.9,2152.2 342.3,2135.5 350.7,2093.5 359,2074.3 367.4,2050.4 375.8,2085.6 384.2,2080.8 392.6,2125.9 401,2207.4 409.4,2180.5 417.8,2238 426.1,2239.7 434.5,2288.9 442.9,2344 451.3,2372.7 459.7,2394.3 468.1,2410.6 476.5,2411.8 484.8,2423.1 493.2,2434.6 501.6,2438.7 510,2438.2 518.4,2438.7 526.8,2439.9 535.2,2438.1 543.5,2438.9 551.9,2439.3 560.3,2439.7 568.7,2440.1 577.1,2440.1 585.5,2439.7 593.9,2439.3 602.2,2438.9 610.6,2438.5 619,2438.9 627.4,2439.3 635.8,2440.1 644.2,2440.5 652.6,2420.5 660.9,2438.1 669.3,2435.3 677.7,2443.7 686.1,2440.1 694.5,2439.7 702.9,2438.9 711.3,2436.5 719.6,2431.3 728,2441.3 736.4,2438.5 744.8,2439.3 753.2,2447.3 761.6,2436.5 770,2437.3 778.3,2437.3 786.7,2437.3 795.1,2437.3 803.5,2437.3 811.9,2438.5 820.3,2439.3 828.7,2440.5 837,2441.3 845.4,2444.5 853.8,2441.3 862.2,2442.1 870.6,2448.1 879,2443.3 887.4,2437.3 895.8,2436.5 904.1,2440.5 912.5,2438.1 920.9,2438.1 929.3,2438.5 937.7,2438.5 946.1,2438.9 954.5,2439.3 962.8,2439.7 971.2,2440.1" fill="none" stroke="#ff0000" stroke-width="3.6" stroke-linejoin="round" stroke-linecap="butt" />
<path d="M28.1,2981.8C58.2,2981.8 177.4,2981.9 208.5,2981.9C210.5,2981.9 212.7,2981.7 214.6,2981.2C216.4,2980.9 218.1,2980.3 219.7,2979.4C221.4,2978.5 223.3,2977.2 224.8,2975.7C226.3,2974.3 227.8,2972.5 228.9,2970.6C230.1,2968.6 231.2,2965.9 231.9,2963.5C232.8,2960.7 233.4,2957.4 234,2954.3C234.7,2950.7 235.4,2946.1 236,2942C236.7,2937.6 237.4,2932.5 238.1,2927.7C238.8,2923 239.4,2917.8 240.1,2913.4C240.7,2909.3 241.5,2904.4 242.2,2901.2C242.7,2898.7 243.5,2895.9 244.2,2894C244.7,2892.6 245.6,2891 246.2,2889.9C246.8,2889.1 247.6,2888.3 248.3,2887.9C248.9,2887.5 249.7,2887.4 250.3,2887.5C251,2887.6 251.8,2888 252.4,2888.5C253.1,2889.1 253.9,2890.3 254.4,2891.4C255.3,2893 256.6,2895.8 257.5,2898.1C258.5,2900.8 259.6,2904.2 260.5,2907.3C261.6,2910.5 262.6,2914.1 263.6,2917.5C264.6,2920.9 265.7,2924.5 266.7,2927.7C267.6,2930.8 268.7,2934.1 269.7,2936.9C270.7,2939.5 271.8,2942.3 272.8,2944.5C273.7,2946.4 274.8,2948.6 275.9,2950.2C276.7,2951.5 277.9,2952.8 278.9,2953.9C279.9,2954.8 280.9,2955.6 282,2956.3C283.2,2957.1 284.7,2957.9 286.1,2958.4C287.4,2958.9 289,2959.2 290.2,2959.4C291.2,2959.5 292.2,2959.6 293.2,2959.4C294.3,2959.2 295.3,2958.8 296.3,2958.4C297.3,2957.9 298.5,2957.2 299.4,2956.3C300.4,2955.3 301.6,2953.7 302.4,2952.2C303.4,2950.4 304.6,2947.5 305.5,2945.1C306.5,2942.2 307.7,2938.1 308.6,2934.9C309.4,2931.8 309.9,2928.6 310.6,2925.7C311.2,2922.9 312,2920.1 312.6,2917.5C313.3,2915.1 314,2912.4 314.7,2910.4C315.3,2908.6 316,2906.6 316.7,2905.3C317.3,2904.2 318.1,2903 318.8,2902.2C319.3,2901.5 320.1,2901 320.8,2900.6C321.6,2900.1 322.4,2899.7 323.3,2899.7C324.1,2899.7 325.1,2900.1 325.9,2900.6C326.9,2901.1 328.1,2902.1 329,2903.2C330,2904.5 331.1,2906.6 332,2908.3C333.1,2910.2 334.1,2912.4 335.1,2914.4C336.1,2916.5 337.2,2918.7 338.2,2920.6C339.1,2922.3 340.2,2924.1 341.2,2925.7C342.2,2927.1 343.3,2928.7 344.3,2929.8C345.2,2930.7 346.3,2931.6 347.4,2932.2C348.3,2932.7 349.6,2933.1 350.4,2933.2C351.1,2933.4 351.8,2933.4 352.5,2933.2C353.3,2933 354.7,2932.6 355.5,2931.8C356.6,2930.9 357.7,2929.2 358.6,2927.7C359.6,2926 360.8,2923.7 361.7,2921.6C362.7,2919 363.9,2915.5 364.7,2912.4C365.8,2908.7 366.9,2903.6 367.8,2899.1C368.8,2894 370,2887.2 370.9,2881.8C371.7,2876.7 372.3,2871.6 372.9,2866.4C373.6,2860.8 374.3,2854.2 374.9,2848.1C375.6,2841.2 376.4,2833.1 377,2825.6C377.7,2817.4 378.4,2807.9 379,2799C379.7,2789.5 380.4,2778.6 381.1,2768.4C381.8,2757.5 382.5,2745.2 383.1,2733.7C383.8,2721.7 384.5,2708.8 385.2,2696.9C385.8,2685.3 386.5,2673.7 387.2,2662.2C387.9,2650.6 388.6,2639 389.2,2627.4C389.9,2615.9 390.6,2603.9 391.3,2592.7C391.9,2581.8 392.7,2569.9 393.3,2560C393.9,2551.2 394.7,2541.3 395.4,2533.5C396,2526.6 396.7,2518.3 397.4,2513C397.9,2509.3 398.8,2504.2 399.5,2501.8C399.7,2500.7 400.6,2498.7 401.1,2498.7C401.6,2498.7 402.3,2500.7 402.5,2501.8C403,2504.5 403.7,2510.6 404.2,2515.1C404.7,2520.7 405.3,2528.7 405.8,2535.5C406.4,2543 407,2551.8 407.6,2560C408.3,2568.5 409,2577.7 409.7,2586.6C410.4,2595.4 411,2605.6 411.7,2613.1C412.3,2619.3 413.2,2627.3 413.8,2631.5C414.1,2633.9 414.7,2637.2 415.2,2638.7C415.4,2639.3 416,2640.4 416.4,2640.1C416.9,2639.8 417.6,2637.8 417.8,2636.6C418.4,2633.8 419.3,2627.8 419.9,2623.3C420.6,2618.4 421.3,2611.3 421.9,2607C422.4,2603.9 423.4,2599.9 424,2597.8C424.3,2596.7 425,2595.3 425.4,2594.7C425.7,2594.4 426.3,2594.1 426.6,2594.3C427.1,2594.7 427.8,2595.9 428.1,2596.8C428.5,2598.6 429.1,2602.2 429.5,2605C430,2609 430.7,2615.8 431.1,2621.3C431.7,2629.1 432.6,2641.7 433.2,2651.9C433.8,2663.9 434.6,2679.2 435.2,2692.8C435.9,2707.1 436.6,2722.8 437.3,2737.7C437.9,2753.1 438.6,2770.1 439.3,2784.7C439.9,2798.3 440.7,2812.6 441.3,2825.6C442,2837.8 442.7,2851.5 443.4,2862.4C444,2871.9 444.7,2883.1 445.4,2891C446,2897.1 446.8,2904.4 447.5,2909.3C448,2913.1 448.8,2917.5 449.5,2920.6C450,2923 450.7,2925.7 451.6,2927.7C452.3,2929.6 453.6,2931.3 454.6,2932.8C455.6,2934.2 456.7,2935.6 457.7,2936.9C458.7,2938.3 459.9,2939.5 460.7,2941C461.8,2942.7 462.8,2945.3 463.8,2947.1C464.8,2948.9 465.9,2950.7 466.9,2952.2C467.8,2953.7 468.9,2955 469.9,2956.3C471,2957.7 472,2959.2 473,2960.4C473.9,2961.5 475,2962.5 476.1,2963.5C477.3,2964.5 478.8,2965.6 480.2,2966.5C481.5,2967.4 482.8,2968.3 484.2,2969C485.9,2969.7 488.3,2970.4 490.4,2971C492.7,2971.7 495.8,2972.6 498.5,2973.1C501.9,2973.7 508.4,2974.3 510.4,2974.7C510.7,2974.8 510.1,2975.5 510.4,2975.6C512.1,2976 517.1,2976.6 520.4,2977C524.8,2977.4 531.1,2978.2 536.5,2978.2L578.7,2978.2C580.1,2978.2 581.5,2977.8 582.8,2977.2C584.1,2976.6 585.5,2975.5 586.8,2974.6C588.1,2973.6 589.5,2972.6 590.8,2971.6C592.1,2970.5 593.5,2969.1 594.8,2968.5C596.1,2968 597.5,2968 598.8,2967.9C601.2,2967.8 606.7,2968.3 608.9,2967.9C610.2,2967.7 611.1,2966.5 611.9,2965.5C612.9,2964.3 614.2,2962.3 614.9,2960.5C615.9,2957.8 617.2,2953.2 617.9,2949.4C618.9,2944.6 620.1,2937.4 621,2931.3C622,2924.3 623.1,2915.2 624,2907.2C625,2898.1 626,2887.1 627,2877C628,2866.6 629.2,2853.6 630,2844.8C630.6,2838.1 631.3,2830.4 632,2824.7C632.6,2820 633.4,2813.8 634,2810.6C634.3,2808.9 635,2806.6 635.4,2805.6C635.6,2805.1 636.2,2804.4 636.6,2804.6C637.1,2804.8 637.8,2805.8 638,2806.6C638.6,2808.6 639.5,2813.3 640,2816.7C640.7,2821 641.4,2827.4 642.1,2832.8C642.7,2838.5 643.4,2844.8 644.1,2850.9C644.9,2857.9 646.1,2867.6 647.1,2875C648,2881.7 649.1,2889.4 650.1,2895.1C650.9,2899.8 652.1,2904.8 653.1,2909.2C654,2913.2 655.1,2917.6 656.1,2921.3C657.1,2924.6 658.1,2928.3 659.1,2931.3C660.1,2934 661.1,2936.7 662.2,2939.4C663.3,2942.2 664.7,2945.6 666.2,2948.4C667.7,2951.2 669.4,2954.1 671.2,2956.5C673,2958.7 675,2960.7 677.2,2962.5C679.6,2964.3 682.5,2966.1 685.3,2967.5C688.3,2969 691.9,2970.4 695.3,2971.6C699,2972.8 703.3,2974.1 707.4,2975C711.7,2975.9 716.7,2976.6 721.5,2977.2C727.2,2977.9 734.8,2978.7 741.6,2979.2C748.3,2979.7 755.3,2980 762,2980.2C768.7,2980.4 775.4,2980.6 782.1,2980.6L802.2,2980.6C806.3,2980.6 810.6,2979.9 814.3,2979.6C817.6,2979.3 821.7,2978.8 824.3,2978.6C826.4,2978.4 828.4,2978.3 830.4,2978.4C832.4,2978.5 834.4,2978.9 836.4,2979.2C839.1,2979.6 843.1,2980.3 846.5,2980.6C850.8,2981 857.2,2981.4 862.5,2981.6C868.6,2981.8 875.9,2982 882.6,2982C889.3,2982 898.1,2981.8 902.7,2981.6C905.4,2981.5 908.6,2981.1 910.8,2980.6C912.5,2980.2 914.3,2979.5 915.8,2978.6C917.5,2977.6 919.3,2976.1 920.8,2974.6C922.5,2972.9 924.4,2970.7 925.9,2968.5C927.4,2966.4 928.7,2963.9 929.9,2961.5C931.1,2959 931.9,2956.1 932.9,2953.4C933.9,2950.8 934.9,2947.9 935.9,2945.4C936.9,2943 937.9,2940.4 938.9,2938.4C939.8,2936.6 941,2934.5 941.9,2933.3C942.6,2932.5 943.9,2931.7 944.6,2931.3C945,2931.1 945.5,2930.9 946,2930.9C946.5,2931 947.5,2931.2 948,2931.7C948.8,2932.6 950.1,2934.7 951,2936.4C952,2938.3 953,2941 954,2943.4C955,2945.7 956,2948.1 957,2950.4C958,2952.8 959,2955.4 960,2957.5C960.9,2959.4 961.9,2961.3 963,2963.1C964.2,2964.9 965.6,2966.9 967.1,2968.5C968.6,2970.2 970.4,2971.9 972.1,2973.2C973.6,2974.3 975.3,2975.3 977.1,2976C979,2976.7 981.1,2977.2 983.2,2977.6C985.8,2978.1 989.9,2978.5 993.2,2978.8C996.5,2979.1 999.9,2979.4 1003.3,2979.6C1007.6,2979.9 1014,2980.4 1019.3,2980.6C1025.3,2980.8 1035.8,2980.9 1039,2981" fill="none" stroke="#000" stroke-width="3.6" stroke-linejoin="round" stroke-linecap="butt"/>
<line x1="212.5" y1="2055.3" x2="212.5" y2="3567" stroke="#000" stroke-width="6.5" stroke-linecap="round" stroke-dasharray="4.4 10.7"/>
<line x1="495" y1="2055.3" x2="495" y2="3567" stroke="#000" stroke-width="6.5" stroke-linecap="round" stroke-dasharray="4.4 10.7"/>
<line x1="212.5" y1="3568.5" x2="212.5" y2="3590.5" stroke="#000" stroke-width="2" stroke-linecap="butt" />
<line x1="495" y1="3568.5" x2="495" y2="3590.5" stroke="#000" stroke-width="2" stroke-linecap="butt" />
<path d="M236.3,3525.7C237,3524.4 239,3520.3 240.2,3518.2C241.2,3516.3 242.4,3513.9 243.4,3512.8C244.3,3511.9 245.6,3511.1 246.7,3511.3C247.7,3511.5 249,3512.9 249.9,3513.9C251,3515 252,3517.8 253.1,3518.2C254.2,3518.5 255.4,3516.8 256.3,3516C257.4,3515.1 258.5,3513.5 259.6,3512.8C260.5,3512.2 261.7,3511.5 262.8,3511.7C263.9,3511.9 265.2,3512.9 266,3513.9C267.1,3515.1 268.2,3517.5 269.2,3519.2C270.3,3521 271.7,3523.5 272.5,3524.6C272.8,3525.1 273.5,3525.5 273.8,3525.7" fill="none" stroke="#ff8000" stroke-width="7.2" stroke-linejoin="round" stroke-linecap="round"/>
<path d="M245.6,3525.7C246.3,3524.5 248.6,3520.1 249.9,3518.6C250.7,3517.6 252.2,3516.7 253.1,3516.5C254,3516.2 255,3516.3 255.7,3516.9C256.6,3517.6 257.6,3519.7 258.5,3520.8C259.3,3521.6 260.4,3523.2 261.3,3522.9C262.2,3522.7 263.4,3520.7 263.9,3519.2C264.7,3517 265.3,3512.5 266,3509.1C266.7,3505.7 267.5,3501.4 268.2,3498.8C268.7,3497 269.6,3494.6 270.3,3493.4C270.8,3492.7 271.8,3491.8 272.5,3491.9C273.2,3492.1 274.2,3493.5 274.6,3494.5C275.3,3496.3 276.2,3499.9 276.8,3502.7C277.5,3506.1 278.2,3511.6 278.9,3514.9C279.5,3517.6 280.4,3521.1 281.1,3522.9C281.5,3524 282,3525.7 283.2,3525.7L334.8,3525.7" fill="none" stroke="#aa00e0" stroke-width="7.2" stroke-linejoin="round" stroke-linecap="round"/>
<path d="M220.9,3525.7C221.2,3525.7 222.3,3525.4 223,3525.7C223.9,3526.1 225.2,3528 226.2,3527.8C227.2,3527.7 228.7,3526 229,3524.6C229.9,3521.2 230.6,3513.2 231.2,3507.4C231.9,3500.3 232.7,3490.2 233.3,3481.6C234.1,3472.3 234.8,3461.2 235.5,3451.5C236.2,3442.2 236.9,3431.8 237.6,3423.5C238.3,3416.4 239.1,3408.1 239.8,3402C240.4,3397 241.2,3390.9 241.9,3387C242.5,3384.1 243.3,3380.5 244.1,3378.4C244.7,3376.8 245.7,3374.9 246.7,3374.1C247.5,3373.4 249,3373.1 249.9,3373.7C251,3374.4 252.2,3378 253.1,3378.4C254.1,3378.8 255.2,3377.3 255.7,3376.2C256.5,3374.4 257.3,3370.5 257.8,3367.6C258.6,3363.7 259.4,3356.5 260,3352.6C260.5,3349.7 261.1,3345.8 261.7,3344C262,3343 262.9,3341.4 263.4,3341.4C264,3341.4 264.9,3343 265.2,3344C265.8,3346.2 266.5,3351.1 267.1,3354.7C267.8,3359 268.6,3364.8 269.2,3369.8C270,3375.2 270.7,3381.6 271.4,3387C272.1,3392 272.8,3397.7 273.5,3402C274.1,3405.6 274.9,3409.6 275.7,3412.8C276.4,3415.7 277.6,3419.2 278.5,3421.4C279.1,3422.9 280.2,3424.8 281.1,3425.7C281.7,3426.4 282.8,3427 283.7,3426.8C284.6,3426.6 285.8,3425.6 286.5,3424.6C287.3,3423.4 288.1,3421.1 288.6,3419.2C289.3,3416.6 290.2,3412.1 290.8,3408.5C291.5,3404.2 292.2,3397.7 292.9,3393.4C293.5,3389.8 294.3,3385.6 295.1,3382.7C295.6,3380.5 296.6,3377.6 297.2,3376.2C297.6,3375.5 298.3,3374.3 298.9,3374.5C299.5,3374.7 300.4,3376.3 300.9,3377.3C301.5,3379 302.2,3382.5 303,3384.8C303.8,3387 304.8,3390.6 305.8,3391.3C306.8,3392 307.9,3389.8 309,3389.1C310.3,3388.4 311.9,3386.3 313.3,3387C314.8,3387.7 317.1,3390.9 317.6,3393.4C318.7,3398.5 319.1,3409.2 319.8,3417.1C320.5,3425.3 321.2,3434.3 321.9,3442.9C322.7,3451.5 323.4,3460.5 324.1,3468.7C324.8,3476.6 325.5,3485.2 326.2,3492.4C326.9,3498.8 327.7,3506.7 328.4,3511.7C328.9,3515.3 329.8,3520 330.5,3522.5C331,3524 331.6,3526.1 332.7,3526.8C333.8,3527.5 335.6,3526.9 337,3526.8C338.8,3526.6 341.3,3525.9 343.4,3525.7C345.9,3525.5 350.6,3525.7 352,3525.7" fill="none" stroke="#00c000" stroke-width="7.2" stroke-linejoin="round" stroke-linecap="round"/>
<path d="M281.1,3525.7L296.1,3525.7C297.6,3525.7 298.7,3527.2 299.4,3528.5C300.3,3530.3 300.8,3533.9 301.5,3536.5C302.2,3539 302.9,3542.3 303.7,3544C304.1,3545 305.1,3546.6 305.8,3546.6C306.5,3546.6 307.7,3545.1 308,3544C308.6,3541.6 309.2,3536.1 309.5,3532.2C309.9,3525.3 310.4,3512.8 310.8,3503.1C311.2,3491.1 311.6,3474.4 312,3460.1C312.5,3445.1 312.9,3428.6 313.3,3412.8C313.8,3397 314.2,3381.3 314.6,3365.5C315.1,3349.7 315.5,3332.5 315.9,3318.2C316.3,3305.3 316.8,3289.9 317.2,3279.5C317.5,3271.6 318.1,3261.5 318.5,3255.8C318.8,3252.2 319.3,3247.4 319.8,3245.1C320,3243.9 320.9,3242.4 321.5,3241.8C321.9,3241.4 322.8,3241 323.2,3241.4C323.8,3241.9 324.7,3243.7 324.9,3245.1C325.5,3248.5 326.3,3256.5 326.7,3262.3C327.2,3271.2 327.9,3286.6 328.4,3298.8C329,3313.9 329.6,3334.7 330.1,3352.6C330.7,3372.3 331.3,3395.6 331.8,3417.1C332.4,3438.6 333,3464.1 333.5,3481.6C334,3495.2 334.7,3512.4 335.3,3522.5C335.6,3528.9 336.4,3537.8 337,3541.8C337.2,3543.5 338.1,3546.2 338.7,3546.6C339.3,3546.9 340.1,3545 340.4,3544C341,3542.1 341.7,3538.2 342.4,3535.4C343,3532.6 343.8,3528.8 344.5,3527.2C344.9,3526.4 345.8,3525.7 346.7,3525.7L405.8,3525.7" fill="none" stroke="#ff0000" stroke-width="7.2" stroke-linejoin="round" stroke-linecap="round"/>
<path d="M188.3,3525.7L283.2,3525.7C284.7,3525.7 286.1,3526.3 287.5,3526.8C289,3527.3 290.6,3528.4 291.8,3528.9C292.9,3529.4 294.2,3530.1 295.1,3530C295.9,3529.9 296.8,3529.3 297.2,3528.5C297.8,3527.2 298.4,3524.5 298.7,3522.5C299.2,3519.3 300,3513.9 300.4,3509.6C301,3504.2 301.6,3496.7 302.2,3490.2C302.7,3483 303.3,3474.4 303.9,3466.6C304.4,3458 305,3447.9 305.6,3438.6C306.2,3428.9 306.7,3417.5 307.3,3408.5C307.8,3400.6 308.5,3390.2 309,3384.8C309.3,3381.9 310.2,3378.2 310.8,3376.2C311.1,3375.1 311.9,3373.2 312.5,3373C313,3372.8 313.9,3374.3 314.2,3375.2C314.8,3376.6 315.3,3379.6 315.9,3381.6C316.4,3383.4 317.1,3386.1 317.6,3387C317.9,3387.5 319.1,3387.5 319.4,3387C319.9,3385.9 320.7,3382.7 321.1,3380.5C321.6,3377.3 322.4,3372 322.8,3367.6C323.4,3361.9 324,3353.3 324.5,3346.1C325.1,3337.5 325.7,3326.1 326.2,3316C326.8,3304.6 327.4,3290.2 328,3277.3C328.5,3263 329.1,3245.8 329.7,3230C330.3,3213.9 330.8,3197 331.4,3180.5C332,3164.1 332.5,3146.5 333.1,3131.1C333.7,3116.7 334.3,3100.3 334.8,3088.1C335.3,3078 336,3064.8 336.6,3058C336.9,3054.2 337.6,3047.8 338.1,3046.8C338.6,3045.7 339.3,3049.9 339.6,3051.5C340.1,3054.8 340.8,3061.5 341.3,3066.6C341.9,3073 342.7,3082.3 343.4,3090.2C344.3,3099.5 345.6,3111.7 346.7,3122.5C347.7,3133.6 348.8,3145.4 349.9,3156.9C351,3168.4 352,3179.8 353.1,3191.3C354.2,3202.8 355.3,3214.2 356.3,3225.7C357.4,3237.2 358.5,3248.6 359.6,3260.1C360.6,3271.9 361.8,3284.5 362.8,3296.7C363.9,3309.2 364.9,3322.5 366,3335.4C367.1,3348.3 368.2,3361.5 369.2,3374.1C370.3,3386.3 371.4,3399.2 372.5,3410.6C373.5,3421.4 374.6,3432.9 375.7,3442.9C376.7,3452.2 377.8,3462.6 378.9,3470.9C379.9,3478 381.1,3486.3 382.2,3492.4C383,3497.4 384.3,3503.1 385.4,3507.4C386.3,3511 387.5,3515.3 388.6,3518.2C389.4,3520.4 390.8,3523 391.8,3524.6C392.7,3525.9 394,3527.2 395.1,3527.8C396,3528.4 397.2,3528.7 398.3,3528.5C399.4,3528.3 400.4,3527.2 401.5,3526.8C402.8,3526.3 404.3,3525.7 405.8,3525.7L1043.5,3525.7" fill="none" stroke="#0000ff" stroke-width="7.2" stroke-linejoin="round" stroke-linecap="round"/>
<line x1="34.2" y1="3568.5" x2="1045.1" y2="3568.5" stroke="#000" stroke-width="2.0" stroke-linecap="butt" />
<line x1="35.2" y1="3568.5" x2="35.2" y2="3590.5" stroke="#000" stroke-width="2.0" stroke-linecap="butt" />
<line x1="75.6" y1="3568.5" x2="75.6" y2="3580.5" stroke="#000" stroke-width="2.0" stroke-linecap="butt" />
<line x1="115.9" y1="3568.5" x2="115.9" y2="3580.5" stroke="#000" stroke-width="2.0" stroke-linecap="butt" />
<line x1="156.3" y1="3568.5" x2="156.3" y2="3580.5" stroke="#000" stroke-width="2.0" stroke-linecap="butt" />
<line x1="196.6" y1="3568.5" x2="196.6" y2="3580.5" stroke="#000" stroke-width="2.0" stroke-linecap="butt" />
<line x1="237" y1="3568.5" x2="237" y2="3590.5" stroke="#000" stroke-width="2.0" stroke-linecap="butt" />
<line x1="277.3" y1="3568.5" x2="277.3" y2="3580.5" stroke="#000" stroke-width="2.0" stroke-linecap="butt" />
<line x1="317.7" y1="3568.5" x2="317.7" y2="3580.5" stroke="#000" stroke-width="2.0" stroke-linecap="butt" />
<line x1="358" y1="3568.5" x2="358" y2="3580.5" stroke="#000" stroke-width="2.0" stroke-linecap="butt" />
<line x1="398.4" y1="3568.5" x2="398.4" y2="3580.5" stroke="#000" stroke-width="2.0" stroke-linecap="butt" />
<line x1="438.8" y1="3568.5" x2="438.8" y2="3590.5" stroke="#000" stroke-width="2.0" stroke-linecap="butt" />
<line x1="479.1" y1="3568.5" x2="479.1" y2="3580.5" stroke="#000" stroke-width="2.0" stroke-linecap="butt" />
<line x1="519.5" y1="3568.5" x2="519.5" y2="3580.5" stroke="#000" stroke-width="2.0" stroke-linecap="butt" />
<line x1="559.8" y1="3568.5" x2="559.8" y2="3580.5" stroke="#000" stroke-width="2.0" stroke-linecap="butt" />
<line x1="600.2" y1="3568.5" x2="600.2" y2="3580.5" stroke="#000" stroke-width="2.0" stroke-linecap="butt" />
<line x1="640.5" y1="3568.5" x2="640.5" y2="3590.5" stroke="#000" stroke-width="2.0" stroke-linecap="butt" />
<line x1="680.9" y1="3568.5" x2="680.9" y2="3580.5" stroke="#000" stroke-width="2.0" stroke-linecap="butt" />
<line x1="721.3" y1="3568.5" x2="721.3" y2="3580.5" stroke="#000" stroke-width="2.0" stroke-linecap="butt" />
<line x1="761.6" y1="3568.5" x2="761.6" y2="3580.5" stroke="#000" stroke-width="2.0" stroke-linecap="butt" />
<line x1="802" y1="3568.5" x2="802" y2="3580.5" stroke="#000" stroke-width="2.0" stroke-linecap="butt" />
<line x1="842.3" y1="3568.5" x2="842.3" y2="3590.5" stroke="#000" stroke-width="2.0" stroke-linecap="butt" />
<line x1="882.7" y1="3568.5" x2="882.7" y2="3580.5" stroke="#000" stroke-width="2.0" stroke-linecap="butt" />
<line x1="923" y1="3568.5" x2="923" y2="3580.5" stroke="#000" stroke-width="2.0" stroke-linecap="butt" />
<line x1="963.4" y1="3568.5" x2="963.4" y2="3580.5" stroke="#000" stroke-width="2.0" stroke-linecap="butt" />
<line x1="1003.7" y1="3568.5" x2="1003.7" y2="3580.5" stroke="#000" stroke-width="2.0" stroke-linecap="butt" />
<line x1="1044.1" y1="3568.5" x2="1044.1" y2="3590.5" stroke="#000" stroke-width="2.0" stroke-linecap="butt" />
<text x="23.61" y="3634.00" font-size="43.86" font-weight="bold" font-style="normal" letter-spacing="2.20">5</text>
<text x="211.41" y="3634.00" font-size="43.86" font-weight="bold" font-style="normal" letter-spacing="2.20">10</text>
<text x="412.84" y="3634.00" font-size="43.86" font-weight="bold" font-style="normal" letter-spacing="2.20">15</text>
<text x="615.65" y="3634.00" font-size="43.86" font-weight="bold" font-style="normal" letter-spacing="2.20">20</text>
<text x="817.09" y="3634.00" font-size="43.86" font-weight="bold" font-style="normal" letter-spacing="2.20">25</text>
<text x="1019.55" y="3634.00" font-size="43.86" font-weight="bold" font-style="normal" letter-spacing="2.20">30</text>
<text x="392.00" y="3719.10" font-size="54.57" font-weight="bold" font-style="normal" textLength="297.60" lengthAdjust="spacingAndGlyphs">Time in min</text>
<line x1="538" y1="2009.8" x2="601.3" y2="2009.8" stroke="#ff0000" stroke-width="3.0" stroke-linecap="butt" />
<text x="634.05" y="2029.60" font-size="54.67" font-weight="normal" font-style="normal" textLength="354.43" lengthAdjust="spacingAndGlyphs">Procoagulation</text>
<line x1="667.8" y1="2543" x2="731" y2="2543" stroke="#000" stroke-width="3.0" stroke-linecap="butt" />
<text x="765.24" y="2562.70" font-size="54.47" font-weight="normal" font-style="normal" textLength="201.10" lengthAdjust="spacingAndGlyphs">SEC-UV</text>
<text x="658.10" y="3132.60" font-size="60.59" font-weight="bold" font-style="normal" textLength="174.42" lengthAdjust="spacingAndGlyphs">PSCs:</text>
<line x1="663.8" y1="3171" x2="729.8" y2="3171" stroke="#00c000" stroke-width="5.5" stroke-linecap="butt" />
<text x="762.00" y="3187.00" font-size="47.23" font-weight="normal" font-style="normal" textLength="226.44" lengthAdjust="spacingAndGlyphs">VM3CX_Si</text>
<line x1="663.8" y1="3219.3" x2="729.8" y2="3219.3" stroke="#0000ff" stroke-width="5.5" stroke-linecap="butt" />
<text x="762.00" y="3234.90" font-size="47.23" font-weight="normal" font-style="normal" textLength="187.01" lengthAdjust="spacingAndGlyphs">VSPA_Si</text>
<line x1="663.8" y1="3271.7" x2="729.8" y2="3271.7" stroke="#ff0000" stroke-width="5.5" stroke-linecap="butt" />
<text x="762.00" y="3286.90" font-size="47.23" font-weight="normal" font-style="normal" textLength="195.58" lengthAdjust="spacingAndGlyphs">VSPG_Si</text>
<line x1="663.8" y1="3319.6" x2="729.8" y2="3319.6" stroke="#aa00e0" stroke-width="5.5" stroke-linecap="butt" />
<text x="760.55" y="3335.60" font-size="47.23" font-weight="normal" font-style="normal" textLength="208.49" lengthAdjust="spacingAndGlyphs">SLLC1_Si</text>
<line x1="663.8" y1="3372.4" x2="729.8" y2="3372.4" stroke="#ff8000" stroke-width="5.5" stroke-linecap="butt" />
<text x="760.55" y="3388.30" font-size="47.23" font-weight="normal" font-style="normal" textLength="208.49" lengthAdjust="spacingAndGlyphs">SLLC2_Si</text>
</g>
<g id="panelD">
<text x="1247.98" y="1950.60" font-size="68.30" font-weight="bold" font-style="italic" textLength="47.16" lengthAdjust="spacingAndGlyphs">D</text>
<text x="1377.81" y="1950.60" font-size="68.30" font-weight="normal" font-style="normal" textLength="801.89" lengthAdjust="spacingAndGlyphs">Procoagulation (marimastat)</text>
<polyline points="1213.2,2417.1 1221.7,2424.3 1230.2,2409.4 1238.6,2423.6 1247.1,2407.5 1255.6,2412.3 1264.1,2415.9 1272.6,2402.7 1281,2399.8 1289.5,2401 1298,2414 1306.5,2410.6 1315,2407 1323.4,2413 1331.9,2409.9 1340.4,2406.3 1348.9,2414.2 1357.4,2411.6 1365.8,2396.7 1374.3,2403.4 1382.8,2408.7 1391.3,2411.1 1399.8,2403.4 1408.2,2406.8 1416.7,2363.2 1425.2,2143.8 1433.7,2119.9 1442.2,2155.8 1450.6,2051.1 1459.1,2195.4 1467.6,2268.5 1476.1,2208.6 1484.6,2236.6 1493,2197.1 1501.5,2288.9 1510,2352.4 1518.5,2373.9 1527,2396.7 1535.4,2403.9 1543.9,2418.3 1552.4,2401 1560.9,2411.1 1569.4,2411.4 1577.8,2415.3 1586.3,2419.3 1594.8,2427.3 1603.3,2421.3 1611.8,2413.3 1620.2,2402.6 1628.7,2398.2 1637.2,2376.6 1645.7,2400.6 1654.2,2410.2 1662.6,2422.1 1671.1,2408.2 1679.6,2409.4 1688.1,2412.5 1696.6,2408.2 1705,2411.4 1713.5,2416.5 1722,2422.1 1730.5,2413.3 1739,2421.3 1747.4,2421.3 1755.9,2419.3 1764.4,2416.1 1772.9,2409.4 1781.4,2408.6 1789.8,2412.1 1798.3,2401.4 1806.8,2405.4 1815.3,2406.6 1823.8,2412.5 1832.2,2398.6 1840.7,2417.3 1849.2,2431.3 1857.7,2436.5 1866.2,2437.3 1874.6,2435.3 1883.1,2424.5 1891.6,2424.1 1900.1,2413.3 1908.6,2402.2 1917,2410.2 1925.5,2412.5 1934,2410.2 1942.5,2402.6 1951,2398.6 1959.4,2404.6 1967.9,2404.6 1976.4,2395.4 1984.9,2414.1 1993.4,2418.5 2001.8,2418.5 2010.3,2418.5 2018.8,2423.3 2027.3,2409.4 2035.8,2408.6 2044.2,2414.1 2052.7,2410.2 2061.2,2398.6 2069.7,2399.4 2078.2,2407.4 2086.6,2408.2 2095.1,2407.4 2103.6,2400.6 2112.1,2413.3 2120.6,2423.3 2129,2405.4 2137.5,2411.4 2146,2407.4 2154.5,2403.4 2163,2422.1 2171.4,2407.4 2179.9,2406.6 2188.4,2405.4 2196.9,2410.6 2205.4,2411.4 2213.8,2413.3 2222.3,2399.4 2230.8,2413.3" fill="none" stroke="#ff0000" stroke-width="3.6" stroke-linejoin="round" stroke-linecap="butt" />
<path d="M1210.8,2984.2C1241.2,2984.2 1361.6,2984.4 1393,2984.3C1395,2984.3 1397.3,2984.1 1399.1,2983.6C1400.9,2983.2 1402.7,2982.6 1404.3,2981.8C1406,2980.9 1407.9,2979.5 1409.5,2978.1C1411,2976.6 1412.5,2974.8 1413.6,2972.9C1414.8,2970.8 1415.9,2968.2 1416.7,2965.7C1417.5,2962.9 1418.2,2959.5 1418.7,2956.4C1419.4,2952.8 1420.2,2948.1 1420.8,2944C1421.5,2939.5 1422.2,2934.4 1422.9,2929.5C1423.6,2924.7 1424.2,2919.6 1424.9,2915.1C1425.6,2911 1426.3,2906 1427,2902.7C1427.5,2900.2 1428.4,2897.4 1429.1,2895.5C1429.6,2894 1430.4,2892.4 1431.1,2891.3C1431.7,2890.5 1432.5,2889.7 1433.2,2889.3C1433.8,2888.9 1434.6,2888.8 1435.3,2888.9C1435.9,2889 1436.8,2889.4 1437.3,2889.9C1438,2890.6 1438.8,2891.7 1439.4,2892.8C1440.2,2894.4 1441.6,2897.3 1442.5,2899.6C1443.5,2902.3 1444.6,2905.8 1445.6,2908.9C1446.6,2912.2 1447.6,2915.8 1448.7,2919.2C1449.7,2922.7 1450.7,2926.3 1451.8,2929.5C1452.7,2932.7 1453.8,2936 1454.8,2938.8C1455.8,2941.4 1456.9,2944.2 1457.9,2946.5C1458.9,2948.5 1460,2950.7 1461,2952.3C1461.9,2953.6 1463.1,2954.9 1464.1,2956C1465.1,2956.9 1466.1,2957.7 1467.2,2958.4C1468.4,2959.2 1470,2960 1471.4,2960.5C1472.7,2961 1474.3,2961.4 1475.5,2961.5C1476.5,2961.7 1477.6,2961.7 1478.6,2961.5C1479.6,2961.4 1480.7,2961 1481.7,2960.5C1482.7,2960 1483.9,2959.3 1484.8,2958.4C1485.8,2957.4 1487,2955.8 1487.9,2954.3C1488.9,2952.4 1490.1,2949.6 1490.9,2947.1C1492,2944.2 1493.2,2940 1494,2936.8C1494.9,2933.7 1495.4,2930.4 1496.1,2927.5C1496.8,2924.7 1497.5,2921.8 1498.2,2919.2C1498.8,2916.8 1499.5,2914.1 1500.2,2912C1500.8,2910.2 1501.6,2908.2 1502.3,2906.8C1502.9,2905.7 1503.7,2904.5 1504.4,2903.7C1504.9,2903.1 1505.7,2902.5 1506.4,2902.1C1507.2,2901.7 1508,2901.3 1508.9,2901.3C1509.8,2901.3 1510.8,2901.6 1511.6,2902.1C1512.5,2902.7 1513.8,2903.7 1514.7,2904.8C1515.7,2906.1 1516.8,2908.2 1517.8,2909.9C1518.8,2911.8 1519.8,2914.1 1520.9,2916.1C1521.9,2918.2 1522.9,2920.4 1524,2922.3C1524.9,2924.1 1526,2925.9 1527.1,2927.5C1528,2928.9 1529.1,2930.5 1530.1,2931.6C1531,2932.6 1532.2,2933.5 1533.2,2934.1C1534.2,2934.6 1535.5,2934.9 1536.3,2935.1C1537,2935.3 1537.7,2935.3 1538.4,2935.1C1539.3,2934.9 1540.6,2934.4 1541.5,2933.7C1542.5,2932.7 1543.7,2931 1544.6,2929.5C1545.6,2927.8 1546.8,2925.5 1547.7,2923.3C1548.7,2920.8 1549.9,2917.2 1550.8,2914.1C1551.8,2910.3 1553,2905.1 1553.9,2900.6C1554.9,2895.5 1556.1,2888.6 1557,2883.1C1557.8,2877.9 1558.4,2872.8 1559,2867.6C1559.7,2861.9 1560.5,2855.2 1561.1,2849C1561.8,2842.1 1562.5,2833.9 1563.2,2826.3C1563.8,2818 1564.6,2808.4 1565.2,2799.5C1565.9,2789.8 1566.6,2778.8 1567.3,2768.5C1568,2757.5 1568.7,2745.1 1569.3,2733.4C1570,2721.3 1570.7,2708.3 1571.4,2696.2C1572.1,2684.5 1572.8,2672.8 1573.5,2661.1C1574.2,2649.4 1574.8,2637.7 1575.5,2626C1576.2,2614.3 1576.9,2602.3 1577.6,2590.9C1578.3,2579.9 1579,2567.9 1579.7,2557.9C1580.3,2548.9 1581,2539 1581.7,2531C1582.3,2524.2 1583.1,2515.7 1583.8,2510.4C1584.3,2506.6 1585.2,2501.5 1585.8,2499C1586.1,2497.9 1587,2495.9 1587.5,2495.9C1588,2495.9 1588.7,2497.9 1588.9,2499C1589.5,2501.8 1590.2,2508 1590.6,2512.5C1591.1,2518.1 1591.7,2526.2 1592.2,2533.1C1592.8,2540.7 1593.5,2549.6 1594.1,2557.9C1594.7,2566.5 1595.5,2575.8 1596.2,2584.7C1596.8,2593.7 1597.5,2604 1598.2,2611.6C1598.8,2617.8 1599.7,2625.9 1600.3,2630.2C1600.6,2632.6 1601.3,2635.9 1601.7,2637.4C1601.9,2638 1602.5,2639.2 1603,2638.8C1603.4,2638.5 1604.2,2636.6 1604.4,2635.3C1605,2632.5 1605.9,2626.4 1606.5,2621.9C1607.2,2616.9 1607.8,2609.7 1608.5,2605.4C1609,2602.2 1610,2598.2 1610.6,2596.1C1610.9,2595 1611.6,2593.6 1612,2593C1612.3,2592.6 1612.9,2592.3 1613.3,2592.6C1613.7,2592.9 1614.5,2594.1 1614.7,2595.1C1615.2,2596.8 1615.8,2600.5 1616.2,2603.3C1616.7,2607.4 1617.4,2614.3 1617.8,2619.8C1618.4,2627.7 1619.3,2640.5 1619.9,2650.8C1620.6,2662.8 1621.3,2678.3 1621.9,2692.1C1622.6,2706.6 1623.3,2722.4 1624,2737.5C1624.7,2753 1625.4,2770.2 1626.1,2785C1626.7,2798.8 1627.4,2813.2 1628.1,2826.3C1628.8,2838.7 1629.5,2852.5 1630.2,2863.5C1630.8,2873.1 1631.6,2884.5 1632.3,2892.4C1632.8,2898.6 1633.6,2906 1634.3,2911C1634.8,2914.8 1635.7,2919.2 1636.4,2922.3C1636.9,2924.8 1637.6,2927.5 1638.4,2929.5C1639.2,2931.4 1640.5,2933.2 1641.5,2934.7C1642.5,2936.1 1643.6,2937.5 1644.6,2938.8C1645.7,2940.2 1646.8,2941.5 1647.7,2943C1648.8,2944.7 1649.8,2947.3 1650.8,2949.2C1651.8,2950.9 1652.9,2952.8 1653.9,2954.3C1654.9,2955.8 1656,2957.1 1657,2958.4C1658,2959.8 1659.1,2961.4 1660.1,2962.6C1661.1,2963.7 1662.1,2964.7 1663.2,2965.7C1664.4,2966.7 1666,2967.8 1667.3,2968.8C1668.7,2969.7 1670,2970.6 1671.5,2971.2C1673.2,2972 1675.6,2972.7 1677.6,2973.3C1680.1,2974 1683.1,2974.9 1685.9,2975.4C1689.3,2976 1695.9,2976.6 1697.9,2977C1698.1,2977.1 1697.6,2977.8 1697.9,2977.9C1699.6,2978.3 1704.6,2979 1708,2979.3C1712.4,2979.8 1718.8,2980.6 1724.3,2980.6L1766.9,2980.6C1768.3,2980.6 1769.7,2980.1 1770.9,2979.5C1772.3,2978.9 1773.7,2977.8 1775,2976.9C1776.4,2975.9 1777.7,2974.9 1779.1,2973.8C1780.4,2972.8 1781.8,2971.4 1783.1,2970.8C1784.4,2970.2 1785.8,2970.2 1787.2,2970.2C1789.6,2970.1 1795.1,2970.6 1797.3,2970.2C1798.6,2969.9 1799.6,2968.8 1800.4,2967.7C1801.4,2966.5 1802.7,2964.5 1803.4,2962.7C1804.4,2960 1805.7,2955.3 1806.5,2951.5C1807.5,2946.6 1808.6,2939.3 1809.5,2933.2C1810.5,2926.1 1811.7,2916.9 1812.6,2908.8C1813.6,2899.6 1814.6,2888.5 1815.6,2878.3C1816.6,2867.8 1817.8,2854.6 1818.6,2845.8C1819.3,2839 1820,2831.2 1820.7,2825.4C1821.2,2820.7 1822.1,2814.4 1822.7,2811.2C1823,2809.5 1823.7,2807.1 1824.1,2806.1C1824.3,2805.6 1824.9,2804.9 1825.3,2805.1C1825.8,2805.3 1826.5,2806.3 1826.8,2807.1C1827.3,2809.2 1828.3,2813.9 1828.8,2817.3C1829.5,2821.7 1830.2,2828.1 1830.8,2833.6C1831.5,2839.3 1832.1,2845.8 1832.9,2851.9C1833.7,2859 1834.9,2868.8 1835.9,2876.3C1836.8,2883 1837.9,2890.8 1838.9,2896.6C1839.8,2901.4 1841,2906.4 1842,2910.8C1842.9,2914.9 1844,2919.3 1845,2923C1846,2926.4 1847.1,2930.1 1848.1,2933.2C1849,2935.9 1850,2938.6 1851.1,2941.3C1852.3,2944.2 1853.7,2947.6 1855.2,2950.5C1856.7,2953.3 1858.4,2956.2 1860.3,2958.6C1862,2960.9 1864.1,2962.9 1866.4,2964.7C1868.7,2966.6 1871.6,2968.3 1874.5,2969.8C1877.5,2971.3 1881.2,2972.7 1884.6,2973.8C1888.3,2975.1 1892.7,2976.4 1896.8,2977.3C1901.2,2978.2 1906.3,2978.9 1911,2979.5C1916.8,2980.2 1924.5,2981.1 1931.3,2981.6C1938.1,2982.1 1945.2,2982.3 1952,2982.6C1958.7,2982.8 1965.5,2983 1972.3,2983L1992.6,2983C1996.7,2983 2001,2982.3 2004.8,2982C2008.1,2981.7 2012.2,2981.2 2014.9,2981C2016.9,2980.8 2019,2980.7 2021,2980.8C2023,2980.9 2025.1,2981.3 2027.1,2981.6C2029.8,2981.9 2033.8,2982.7 2037.2,2983C2041.6,2983.4 2048.1,2983.8 2053.5,2984C2059.6,2984.2 2067,2984.4 2073.8,2984.4C2080.5,2984.4 2089.3,2984.2 2094.1,2984C2096.8,2983.9 2100,2983.5 2102.2,2983C2104,2982.6 2105.7,2981.9 2107.3,2981C2109,2979.9 2110.8,2978.4 2112.3,2976.9C2114,2975.2 2115.9,2973 2117.4,2970.8C2118.9,2968.6 2120.3,2966.2 2121.5,2963.7C2122.7,2961.1 2123.5,2958.3 2124.5,2955.5C2125.5,2952.8 2126.6,2950 2127.6,2947.4C2128.5,2945 2129.6,2942.3 2130.6,2940.3C2131.5,2938.5 2132.7,2936.4 2133.7,2935.2C2134.4,2934.3 2135.6,2933.6 2136.3,2933.2C2136.7,2932.9 2137.2,2932.7 2137.7,2932.8C2138.3,2932.8 2139.3,2933.1 2139.8,2933.6C2140.6,2934.5 2141.9,2936.6 2142.8,2938.3C2143.8,2940.2 2144.8,2943 2145.8,2945.4C2146.9,2947.8 2147.9,2950.1 2148.9,2952.5C2149.9,2954.9 2150.9,2957.5 2151.9,2959.6C2152.9,2961.6 2153.8,2963.5 2155,2965.3C2156.2,2967.2 2157.5,2969.1 2159,2970.8C2160.6,2972.5 2162.4,2974.2 2164.1,2975.5C2165.7,2976.6 2167.4,2977.6 2169.2,2978.3C2171,2979.1 2173.2,2979.6 2175.3,2979.9C2178,2980.4 2182,2980.8 2185.4,2981.2C2188.8,2981.5 2192.2,2981.7 2195.6,2982C2200,2982.3 2206.4,2982.8 2211.8,2983C2217.8,2983.2 2228.4,2983.3 2231.7,2983.4" fill="none" stroke="#000" stroke-width="3.6" stroke-linejoin="round" stroke-linecap="butt"/>
<line x1="1406.5" y1="2047.7" x2="1406.5" y2="3576" stroke="#000" stroke-width="6.5" stroke-linecap="round" stroke-dasharray="4.4 10.7"/>
<line x1="1534" y1="2047.7" x2="1534" y2="3576" stroke="#000" stroke-width="6.5" stroke-linecap="round" stroke-dasharray="4.4 10.7"/>
<line x1="1406.5" y1="3578.1" x2="1406.5" y2="3599.3" stroke="#000" stroke-width="2" stroke-linecap="butt" />
<line x1="1534" y1="3578.1" x2="1534" y2="3599.3" stroke="#000" stroke-width="2" stroke-linecap="butt" />
<path d="M1423.3,3533.8C1424,3532.5 1426.1,3528.4 1427.2,3526.2C1428.3,3524.3 1429.4,3521.9 1430.5,3520.8C1431.3,3519.9 1432.7,3519.1 1433.8,3519.2C1434.8,3519.4 1436.1,3520.8 1437,3521.8C1438.1,3523 1439.2,3525.8 1440.3,3526.2C1441.4,3526.6 1442.5,3524.9 1443.5,3524C1444.6,3523.1 1445.7,3521.5 1446.8,3520.8C1447.7,3520.1 1449,3519.5 1450.1,3519.7C1451.1,3519.9 1452.5,3520.9 1453.3,3521.8C1454.4,3523.1 1455.5,3525.5 1456.6,3527.3C1457.7,3529.1 1459.1,3531.6 1459.8,3532.7C1460.1,3533.2 1460.9,3533.6 1461.1,3533.8" fill="none" stroke="#ff8000" stroke-width="6.6" stroke-linejoin="round" stroke-linecap="round"/>
<path d="M1432.7,3533.8C1433.4,3532.6 1435.8,3528.2 1437,3526.6C1437.8,3525.6 1439.3,3524.7 1440.3,3524.5C1441.1,3524.2 1442.2,3524.3 1442.9,3524.9C1443.8,3525.6 1444.8,3527.8 1445.7,3528.8C1446.5,3529.7 1447.6,3531.2 1448.5,3531C1449.4,3530.7 1450.6,3528.7 1451.1,3527.3C1451.9,3525 1452.6,3520.5 1453.3,3517.1C1454,3513.6 1454.8,3509.3 1455.5,3506.6C1456,3504.8 1456.9,3502.4 1457.7,3501.2C1458.1,3500.5 1459.1,3499.5 1459.8,3499.7C1460.5,3499.9 1461.6,3501.2 1462,3502.3C1462.7,3504.1 1463.6,3507.8 1464.2,3510.5C1464.9,3514 1465.6,3519.5 1466.3,3522.9C1466.9,3525.6 1467.8,3529.2 1468.5,3531C1469,3532.1 1469.5,3533.8 1470.7,3533.8L1522.8,3533.8" fill="none" stroke="#aa00e0" stroke-width="6.6" stroke-linejoin="round" stroke-linecap="round"/>
<path d="M1407.7,3533.8C1408.1,3533.8 1409.2,3533.5 1409.9,3533.8C1410.8,3534.2 1412.1,3536.2 1413.1,3536C1414.1,3535.8 1415.6,3534.1 1416,3532.7C1416.8,3529.3 1417.5,3521.1 1418.1,3515.3C1418.8,3508.1 1419.6,3498 1420.3,3489.3C1421,3479.8 1421.7,3468.6 1422.5,3458.8C1423.2,3449.4 1423.9,3438.9 1424.6,3430.6C1425.3,3423.3 1426.1,3415 1426.8,3408.9C1427.4,3403.8 1428.3,3397.6 1429,3393.6C1429.5,3390.7 1430.4,3387.1 1431.2,3385C1431.7,3383.4 1432.8,3381.4 1433.8,3380.6C1434.6,3379.9 1436.1,3379.6 1437,3380.2C1438.1,3380.9 1439.3,3384.5 1440.3,3385C1441.3,3385.4 1442.4,3383.8 1442.9,3382.8C1443.7,3381 1444.5,3377 1445.1,3374.1C1445.8,3370.1 1446.6,3362.9 1447.2,3358.9C1447.7,3356 1448.4,3352.1 1449,3350.2C1449.3,3349.2 1450.1,3347.6 1450.7,3347.6C1451.3,3347.6 1452.2,3349.2 1452.4,3350.2C1453.1,3352.4 1453.8,3357.4 1454.4,3361.1C1455.1,3365.4 1455.9,3371.2 1456.6,3376.3C1457.3,3381.7 1458,3388.2 1458.7,3393.6C1459.4,3398.7 1460.2,3404.5 1460.9,3408.9C1461.5,3412.5 1462.2,3416.5 1463.1,3419.7C1463.8,3422.7 1465,3426.2 1465.9,3428.4C1466.6,3430 1467.6,3431.9 1468.5,3432.8C1469.2,3433.4 1470.2,3434 1471.1,3433.8C1472,3433.7 1473.3,3432.7 1473.9,3431.7C1474.8,3430.4 1475.6,3428.1 1476.1,3426.2C1476.8,3423.5 1477.7,3419 1478.3,3415.4C1479,3411 1479.7,3404.5 1480.5,3400.2C1481.1,3396.5 1481.9,3392.2 1482.6,3389.3C1483.2,3387.1 1484.1,3384.2 1484.8,3382.8C1485.2,3382 1485.9,3380.9 1486.5,3381C1487.2,3381.2 1488.1,3382.8 1488.5,3383.9C1489.2,3385.6 1489.8,3389.1 1490.7,3391.5C1491.5,3393.7 1492.5,3397.3 1493.5,3398C1494.5,3398.7 1495.6,3396.5 1496.7,3395.8C1498,3395.1 1499.6,3392.9 1501.1,3393.6C1502.5,3394.4 1504.9,3397.6 1505.4,3400.2C1506.5,3405.2 1506.9,3416.1 1507.6,3424.1C1508.3,3432.4 1509.1,3441.5 1509.8,3450.1C1510.5,3458.8 1511.2,3467.9 1511.9,3476.2C1512.6,3484.2 1513.4,3492.9 1514.1,3500.1C1514.8,3506.6 1515.6,3514.6 1516.3,3519.7C1516.8,3523.3 1517.7,3528 1518.5,3530.5C1518.9,3532.1 1519.5,3534.2 1520.6,3534.9C1521.7,3535.6 1523.5,3535 1525,3534.9C1526.8,3534.7 1529.3,3534 1531.5,3533.8C1534,3533.6 1538.7,3533.8 1540.2,3533.8" fill="none" stroke="#00c000" stroke-width="6.6" stroke-linejoin="round" stroke-linecap="round"/>
<path d="M1468.5,3533.8L1483.7,3533.8C1485.2,3533.8 1486.3,3535.3 1487,3536.6C1487.9,3538.4 1488.4,3542.1 1489.1,3544.7C1489.8,3547.2 1490.6,3550.6 1491.3,3552.3C1491.8,3553.3 1492.8,3554.9 1493.5,3554.9C1494.2,3554.9 1495.4,3553.4 1495.7,3552.3C1496.3,3549.8 1496.9,3544.3 1497.2,3540.3C1497.7,3533.4 1498.1,3520.8 1498.5,3511C1498.9,3498.9 1499.4,3482 1499.8,3467.5C1500.2,3452.3 1500.7,3435.7 1501.1,3419.7C1501.5,3403.8 1502,3387.9 1502.4,3371.9C1502.8,3356 1503.3,3338.6 1503.7,3324.1C1504.1,3311.1 1504.6,3295.5 1505,3285C1505.3,3277 1505.9,3266.9 1506.3,3261.1C1506.6,3257.5 1507.1,3252.6 1507.6,3250.2C1507.9,3249 1508.8,3247.6 1509.3,3247C1509.8,3246.5 1510.6,3246.1 1511.1,3246.5C1511.7,3247.1 1512.6,3248.9 1512.8,3250.2C1513.4,3253.7 1514.2,3261.8 1514.6,3267.6C1515.1,3276.7 1515.8,3292.2 1516.3,3304.6C1516.9,3319.8 1517.5,3340.8 1518,3358.9C1518.6,3378.8 1519.2,3402.3 1519.8,3424.1C1520.3,3445.8 1520.9,3471.5 1521.5,3489.3C1522,3503 1522.7,3520.4 1523.2,3530.5C1523.6,3537.1 1524.4,3546 1525,3550.1C1525.2,3551.8 1526.1,3554.5 1526.7,3554.9C1527.3,3555.2 1528.1,3553.3 1528.5,3552.3C1529.1,3550.4 1529.7,3546.4 1530.4,3543.6C1531.1,3540.8 1531.9,3536.9 1532.6,3535.3C1532.9,3534.5 1533.9,3533.8 1534.8,3533.8L1594.5,3533.8" fill="none" stroke="#ff0000" stroke-width="6.6" stroke-linejoin="round" stroke-linecap="round"/>
<path d="M1374.8,3533.8L1470.7,3533.8C1472.2,3533.8 1473.6,3534.4 1475,3534.9C1476.5,3535.4 1478.1,3536.5 1479.4,3537.1C1480.4,3537.5 1481.7,3538.2 1482.6,3538.1C1483.5,3538.1 1484.4,3537.4 1484.8,3536.6C1485.4,3535.4 1486,3532.6 1486.3,3530.5C1486.9,3527.4 1487.6,3521.9 1488.1,3517.5C1488.6,3512.1 1489.3,3504.5 1489.8,3497.9C1490.4,3490.7 1491,3482 1491.5,3474C1492.1,3465.4 1492.7,3455.2 1493.3,3445.8C1493.8,3436 1494.4,3424.4 1495,3415.4C1495.5,3407.4 1496.2,3396.9 1496.7,3391.5C1497.1,3388.5 1497.9,3384.8 1498.5,3382.8C1498.8,3381.6 1499.6,3379.7 1500.2,3379.5C1500.8,3379.3 1501.6,3380.8 1502,3381.7C1502.5,3383.1 1503.1,3386.2 1503.7,3388.2C1504.2,3390 1504.9,3392.7 1505.4,3393.6C1505.7,3394.1 1506.9,3394.2 1507.2,3393.6C1507.7,3392.6 1508.5,3389.3 1508.9,3387.1C1509.5,3383.9 1510.2,3378.5 1510.6,3374.1C1511.2,3368.3 1511.9,3359.6 1512.4,3352.4C1513,3343.7 1513.6,3332.1 1514.1,3321.9C1514.7,3310.4 1515.3,3295.9 1515.9,3282.8C1516.4,3268.3 1517,3251 1517.6,3235C1518.2,3218.7 1518.8,3201.7 1519.3,3185C1519.9,3168.4 1520.5,3150.6 1521.1,3135.1C1521.6,3120.6 1522.2,3103.9 1522.8,3091.6C1523.3,3081.5 1524,3068.1 1524.5,3061.2C1524.8,3057.4 1525.6,3051 1526.1,3049.9C1526.6,3048.8 1527.3,3053 1527.6,3054.7C1528.1,3058 1528.8,3064.8 1529.3,3069.9C1530,3076.4 1530.7,3085.8 1531.5,3093.8C1532.4,3103.2 1533.7,3115.5 1534.8,3126.4C1535.8,3137.6 1536.9,3149.6 1538,3161.1C1539.1,3172.7 1540.2,3184.3 1541.3,3195.9C1542.4,3207.5 1543.4,3219.1 1544.5,3230.7C1545.6,3242.3 1546.7,3253.9 1547.8,3265.4C1548.9,3277.4 1550,3290.1 1551,3302.4C1552.1,3315.1 1553.2,3328.5 1554.3,3341.5C1555.4,3354.5 1556.5,3367.9 1557.6,3380.6C1558.6,3392.9 1559.7,3406 1560.8,3417.5C1561.8,3428.4 1563,3440 1564.1,3450.1C1565.1,3459.6 1566.2,3470.1 1567.3,3478.4C1568.3,3485.7 1569.5,3494 1570.6,3500.1C1571.5,3505.2 1572.8,3511 1573.8,3515.3C1574.8,3519 1576,3523.3 1577.1,3526.2C1578,3528.5 1579.3,3531.1 1580.4,3532.7C1581.2,3534 1582.5,3535.3 1583.6,3536C1584.6,3536.5 1585.8,3536.8 1586.9,3536.6C1588,3536.4 1589,3535.3 1590.1,3534.9C1591.4,3534.4 1593,3533.8 1594.5,3533.8L2238.5,3533.8" fill="none" stroke="#0000ff" stroke-width="6.6" stroke-linejoin="round" stroke-linecap="round"/>
<line x1="1217.8" y1="3578.1" x2="2240.5" y2="3578.1" stroke="#000" stroke-width="2.0" stroke-linecap="butt" />
<line x1="1218.8" y1="3578.1" x2="1218.8" y2="3599.3" stroke="#000" stroke-width="2.0" stroke-linecap="butt" />
<line x1="1259.6" y1="3578.1" x2="1259.6" y2="3589.3" stroke="#000" stroke-width="2.0" stroke-linecap="butt" />
<line x1="1300.5" y1="3578.1" x2="1300.5" y2="3589.3" stroke="#000" stroke-width="2.0" stroke-linecap="butt" />
<line x1="1341.3" y1="3578.1" x2="1341.3" y2="3589.3" stroke="#000" stroke-width="2.0" stroke-linecap="butt" />
<line x1="1382.1" y1="3578.1" x2="1382.1" y2="3589.3" stroke="#000" stroke-width="2.0" stroke-linecap="butt" />
<line x1="1422.9" y1="3578.1" x2="1422.9" y2="3599.3" stroke="#000" stroke-width="2.0" stroke-linecap="butt" />
<line x1="1463.8" y1="3578.1" x2="1463.8" y2="3589.3" stroke="#000" stroke-width="2.0" stroke-linecap="butt" />
<line x1="1504.6" y1="3578.1" x2="1504.6" y2="3589.3" stroke="#000" stroke-width="2.0" stroke-linecap="butt" />
<line x1="1545.4" y1="3578.1" x2="1545.4" y2="3589.3" stroke="#000" stroke-width="2.0" stroke-linecap="butt" />
<line x1="1586.3" y1="3578.1" x2="1586.3" y2="3589.3" stroke="#000" stroke-width="2.0" stroke-linecap="butt" />
<line x1="1627.1" y1="3578.1" x2="1627.1" y2="3599.3" stroke="#000" stroke-width="2.0" stroke-linecap="butt" />
<line x1="1667.9" y1="3578.1" x2="1667.9" y2="3589.3" stroke="#000" stroke-width="2.0" stroke-linecap="butt" />
<line x1="1708.7" y1="3578.1" x2="1708.7" y2="3589.3" stroke="#000" stroke-width="2.0" stroke-linecap="butt" />
<line x1="1749.6" y1="3578.1" x2="1749.6" y2="3589.3" stroke="#000" stroke-width="2.0" stroke-linecap="butt" />
<line x1="1790.4" y1="3578.1" x2="1790.4" y2="3589.3" stroke="#000" stroke-width="2.0" stroke-linecap="butt" />
<line x1="1831.2" y1="3578.1" x2="1831.2" y2="3599.3" stroke="#000" stroke-width="2.0" stroke-linecap="butt" />
<line x1="1872" y1="3578.1" x2="1872" y2="3589.3" stroke="#000" stroke-width="2.0" stroke-linecap="butt" />
<line x1="1912.9" y1="3578.1" x2="1912.9" y2="3589.3" stroke="#000" stroke-width="2.0" stroke-linecap="butt" />
<line x1="1953.7" y1="3578.1" x2="1953.7" y2="3589.3" stroke="#000" stroke-width="2.0" stroke-linecap="butt" />
<line x1="1994.5" y1="3578.1" x2="1994.5" y2="3589.3" stroke="#000" stroke-width="2.0" stroke-linecap="butt" />
<line x1="2035.4" y1="3578.1" x2="2035.4" y2="3599.3" stroke="#000" stroke-width="2.0" stroke-linecap="butt" />
<line x1="2076.2" y1="3578.1" x2="2076.2" y2="3589.3" stroke="#000" stroke-width="2.0" stroke-linecap="butt" />
<line x1="2117" y1="3578.1" x2="2117" y2="3589.3" stroke="#000" stroke-width="2.0" stroke-linecap="butt" />
<line x1="2157.8" y1="3578.1" x2="2157.8" y2="3589.3" stroke="#000" stroke-width="2.0" stroke-linecap="butt" />
<line x1="2198.7" y1="3578.1" x2="2198.7" y2="3589.3" stroke="#000" stroke-width="2.0" stroke-linecap="butt" />
<line x1="2239.5" y1="3578.1" x2="2239.5" y2="3599.3" stroke="#000" stroke-width="2.0" stroke-linecap="butt" />
<text x="1207.21" y="3644.00" font-size="43.86" font-weight="bold" font-style="normal" letter-spacing="2.20">5</text>
<text x="1397.37" y="3644.00" font-size="43.86" font-weight="bold" font-style="normal" letter-spacing="2.20">10</text>
<text x="1601.16" y="3644.00" font-size="43.86" font-weight="bold" font-style="normal" letter-spacing="2.20">15</text>
<text x="1806.33" y="3644.00" font-size="43.86" font-weight="bold" font-style="normal" letter-spacing="2.20">20</text>
<text x="2010.13" y="3644.00" font-size="43.86" font-weight="bold" font-style="normal" letter-spacing="2.20">25</text>
<text x="2214.95" y="3644.00" font-size="43.86" font-weight="bold" font-style="normal" letter-spacing="2.20">30</text>
<text x="1582.00" y="3731.10" font-size="55.08" font-weight="bold" font-style="normal" textLength="298.61" lengthAdjust="spacingAndGlyphs">Time in min</text>
<line x1="1752.9" y1="2056.6" x2="1816.4" y2="2056.6" stroke="#ff0000" stroke-width="3.0" stroke-linecap="butt" />
<text x="1850.62" y="2075.60" font-size="55.18" font-weight="normal" font-style="normal" textLength="356.78" lengthAdjust="spacingAndGlyphs">Procoagulation</text>
<line x1="1874.8" y1="2541" x2="1938.8" y2="2541" stroke="#000" stroke-width="3.0" stroke-linecap="butt" />
<text x="1973.02" y="2560.70" font-size="54.98" font-weight="normal" font-style="normal" textLength="203.12" lengthAdjust="spacingAndGlyphs">SEC-UV</text>
<text x="1848.28" y="3133.80" font-size="60.79" font-weight="bold" font-style="normal" textLength="175.15" lengthAdjust="spacingAndGlyphs">PSCs:</text>
<line x1="1854" y1="3176.6" x2="1920" y2="3176.6" stroke="#00c000" stroke-width="5.5" stroke-linecap="butt" />
<text x="1953.00" y="3193.80" font-size="47.84" font-weight="normal" font-style="normal" textLength="229.37" lengthAdjust="spacingAndGlyphs">VM3CX_Si</text>
<line x1="1854" y1="3229.7" x2="1920" y2="3229.7" stroke="#0000ff" stroke-width="5.5" stroke-linecap="butt" />
<text x="1953.00" y="3245.70" font-size="47.84" font-weight="normal" font-style="normal" textLength="189.43" lengthAdjust="spacingAndGlyphs">VSPA_Si</text>
<line x1="1854" y1="3286.5" x2="1920" y2="3286.5" stroke="#ff0000" stroke-width="5.5" stroke-linecap="butt" />
<text x="1953.00" y="3301.60" font-size="47.84" font-weight="normal" font-style="normal" textLength="198.11" lengthAdjust="spacingAndGlyphs">VSPG_Si</text>
<line x1="1854" y1="3339.6" x2="1920" y2="3339.6" stroke="#aa00e0" stroke-width="5.5" stroke-linecap="butt" />
<text x="1951.53" y="3354.80" font-size="47.84" font-weight="normal" font-style="normal" textLength="211.19" lengthAdjust="spacingAndGlyphs">SLLC1_Si</text>
<line x1="1854" y1="3391.9" x2="1920" y2="3391.9" stroke="#ff8000" stroke-width="5.5" stroke-linecap="butt" />
<text x="1951.53" y="3407.50" font-size="47.84" font-weight="normal" font-style="normal" textLength="211.19" lengthAdjust="spacingAndGlyphs">SLLC2_Si</text>
</g>
</svg>
</body>
</html>
